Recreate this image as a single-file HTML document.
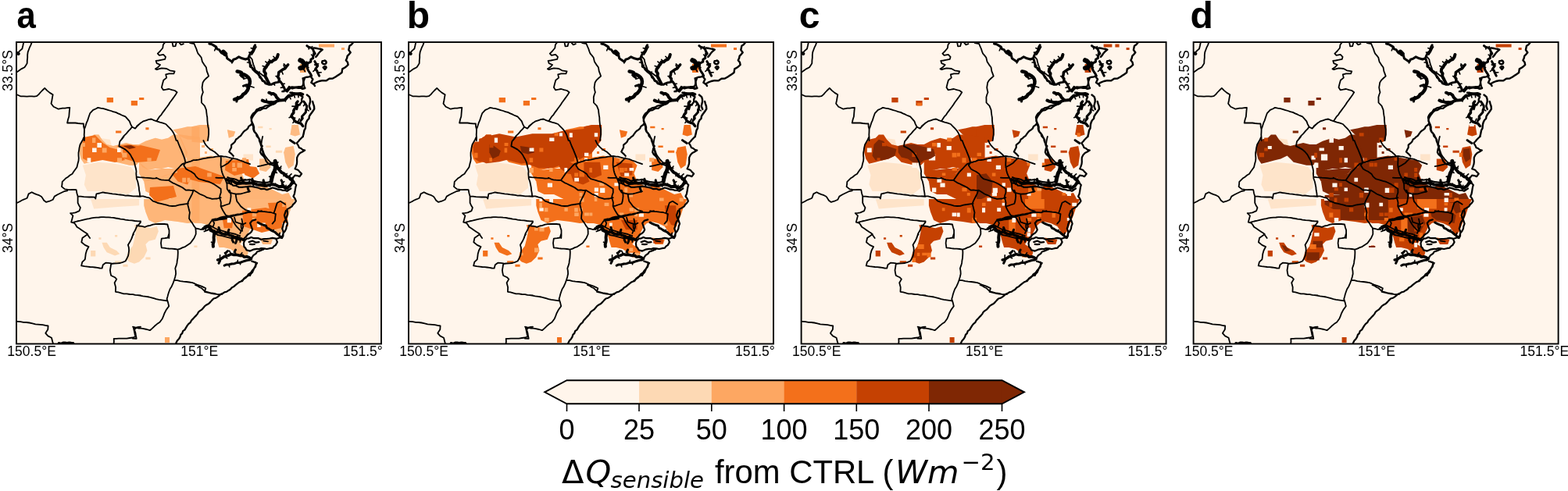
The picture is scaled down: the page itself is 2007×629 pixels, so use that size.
<!DOCTYPE html>
<html><head><meta charset="utf-8"><title>Figure</title><style>
html,body{margin:0;padding:0;background:#fff;}
svg{display:block;}
.lt{font-family:"Liberation Sans",Arial,sans-serif;font-weight:bold;font-size:48px;}
.tk{font-family:"Liberation Sans",Arial,sans-serif;font-size:17.5px;}
.cbt{font-family:"Liberation Sans",Arial,sans-serif;font-size:36px;}
.cbl{font-family:"Liberation Sans",Arial,sans-serif;font-size:41.8px;}
.dj{font-family:"DejaVu Sans",sans-serif;}
.dji{font-family:"DejaVu Sans",sans-serif;font-style:oblique;}
.sub{font-size:29.2px;}
.dj,.dji{font-size:41.6px;}
.dj.sub,.dji.sub{font-size:29.2px;}
</style></head>
<body><svg width="2007" height="629" viewBox="0 0 2007 629"><defs><clipPath id="pc"><rect x="21" y="54" width="467" height="386.5"/></clipPath><g id="ln" fill="none" stroke="#000" stroke-linejoin="round" stroke-linecap="round"><path d="M276.2 60.7 L274.7 64.8 M297.2 78.6 L296.9 80.9 M319.3 80 L316.5 80 M320.8 85.1 L322.4 83.5 M323.6 89.3 L325.3 87.2 M330.3 95.1 L332.2 92 M332.2 99.4 L333.9 98.1 M350.1 107.2 L351.6 109.1 M361.5 107.5 L364.3 107.2 M363.2 111.8 L359.4 112.4 M364.7 115.8 L363.1 117.6 M367.5 117.2 L363.8 114.7 M324.6 62.9 L321.3 61.6 M321.8 67.2 L318.8 67.1 M308.6 92.9 L306.9 96.4 M317.2 99.4 L311.8 101.3 M318.6 110.1 L325 112.1 M317.2 112.9 L314.9 110.9 M352.9 75.8 L349.9 72.3 M347.2 78.6 L344.6 76.3 M342.9 81.5 L339.9 78.9 M340.1 85.8 L336.2 84.4 M366.5 85.1 L363.4 81.8 M364.4 87.2 L363.1 83.3 M360.1 90.1 L362.1 94.9 M355.8 98.6 L353 97.5 M341.5 130.1 L341 127.1 M364.4 127.3 L365.4 129.9 M370.1 123 L372.1 126.9 M375.8 120.1 L377.4 124.9 M381.6 120.1 L382 124.6 M350.1 120.1 L347.2 122 M293.6 231.1 L293.6 235 M297.2 232.2 L295.3 236.3 M304.3 235.1 L302.2 237.6 M307.9 235.1 L306.7 231.4 M311.5 235.1 L311.5 232.6 M318.6 234.3 L319.6 230.2 M325.8 235.8 L324.4 231.8 M340.1 237.9 L339.6 234.2 M347.2 236.5 L345.5 239 M350.8 237.2 L352.6 235 M365.8 240.8 L366.1 237.4 M368.7 239.3 L368.5 242.8 M373.7 235.8 L372.8 232.9 M352.7 210 L356 207.8 M353.2 213.6 L359.7 215.5 M351.5 219.3 L354.4 221.5 M349.4 225 L344.6 226.3 M348.3 228.6 L345.7 226.8 M357.3 216.5 L359.9 213 M363 222.5 L363.1 225.6 M365.8 224.3 L367.3 222.4 M368.7 226.8 L373 222.9 M373.7 231.5 L375.2 228.4 M310 230.8 L314.3 230.1 M337.9 234.3 L335.3 235.2 M361.5 234.3 L363.8 232.7 M262.9 291.5 L263.3 295 M268.6 292.2 L265.3 294.9 M271.4 294.3 L269.2 296.5 M277.2 297.2 L280.1 292.8 M288.6 300 L288.2 296.8 M304.3 304.3 L304.1 301.6 M308.6 305.8 L307.3 310.1 M273.6 311.5 L270.5 310.2 M348.7 295.8 L350.4 294.5 M357.3 302.2 L358.2 298.3 M281.5 331.5 L281.6 326.7 M287.2 328.7 L290.8 330.8 M290 327.2 L287.5 323.7 M295.8 325.8 L293.7 321.3 M301.5 326.5 L301.5 323.7 M307.2 327.2 L309.9 323.8 M292.9 338.7 L293.7 341.9 M303.6 336.5 L304.4 333.4 M307.2 335.8 L307.6 338.8 M379.8 133.2 L384.1 134.7 M378.5 136.4 L374 136.1 M373.4 149.1 L370.1 150.7 M375.3 151.9 L377.8 151 M377.2 154.8 L375 157.3 M381 156.7 L383.3 152.2 M390.6 132.9 L388.6 135.6 M391.5 139.5 L395.2 141.9 M386.8 149.1 L388.1 151.4 M385.8 151.9 L387.6 152.7 M395.8 60 L395.2 62.9 M398.6 61.4 L399.7 59.7 M402.9 68.6 L400.8 68.2 M401.5 71.5 L398.6 70.2 M394.3 81.5 L392.6 79 M392.9 87.2 L394.9 86.4 M404.3 81.5 L407.6 81.9 M405.8 84.3 L402.7 82.9 M404.3 88.6 L400.9 91.4 M407.2 92.9 L411.2 92.8 M387.2 85.8 L390.3 91.5" stroke-width="1.6"/><path d="M30.3 54.1 L29.4 58.3 L28.4 62.5 L25.6 64.9 L23.1 67.6 M40.7 54.1 L39.6 57.3 L38.1 60.3 L36.9 63.5 L35.7 66.6 L35.2 70.2 L35.2 73.8 L34.8 77.4 L34.7 81.1 L33.1 83.7 L31.4 86.2 L27.7 88.1 L24.2 90.5 L21.7 92.4 M21.7 121.3 L26.2 123.3 L30.3 123.4 L34.5 123.6 L37.6 123.4 L40.7 123.3 L43.8 123.6 L46.8 123.2 L49.4 121.1 L51.6 118.5 L54 116 L57.2 112.9 L60.4 116.1 L63.8 118.9 L67.7 121.2 L67 124.9 L66.4 128.5 L65.5 132.7 L68.6 136.8 L71.8 138.2 L74.8 139.7 L79.9 138.7 L83.1 138.6 L86.1 138.2 L89.3 137.8 L88.9 141.6 L88.6 145.4 L88.3 149.2 L87 153.3 L86.1 157.5 L89.6 157.4 L93 157.5 L96.5 157.5 L99.9 158 L103.4 158.3 L106.9 158.5 L107.1 162.2 L108 165.7 L107.9 169.3 L107.7 172.9 L108 176.5 L107.9 180 M107.9 165.8 L109.4 161.6 L110.7 157.4 L112.1 154.4 L113.1 151.3 L114.1 148.2 L115.2 145.2 L119.2 140.9 L122.4 139.5 L125.4 137.9 L128.9 138.6 L132.3 139.2 L135.7 140.1 L138.8 141.2 L142 142 L145 143.1 L148.2 143.9 L151.2 145.4 L154.3 146.7 L157.4 148.2 L160.5 149.4 L163.2 152.3 L165.8 155.4 L167.2 159.1 L169 162.5 L173 164.7 L175.2 162.2 L177.5 159.8 L180 157.5 M168.8 162.7 L166.9 165.4 L164.6 167.7 L161.7 171.1 L158.6 174.1 L156.5 177.1 L154.4 180 M211.2 54.1 L208.9 57.2 L208.3 61.5 L205 65.5 L201.8 68.6 L203.9 70.9 L209.1 69.8 L212 72.8 L211.2 75.9 L206 76.9 L202.9 77.5 L199.6 77.8 L200.7 81.2 L205.1 83 L202 86.3 L198.9 88.3 L200.8 89.1 L203.9 88.2 L207 87.3 L210.2 87.6 L213.3 88 L217.4 90.3 L220.5 90.8 L223.6 91.4 L222.4 94.3 L219.4 94.3 L216.3 94.4 L212.2 95.4 L213.2 99.6 L209.3 102.8 L207.9 107.8 L206.9 112 L209 115.3 L212.7 114.7 L216.3 114 L220 115.1 L223.7 116 L226.6 118.2 L225 120.9 L223.2 123.5 L221.3 126.1 L219.4 128.7 L217.5 131.2 L215.8 133.9 L214 136.5 L212.1 139 L210.2 141.6 L208.3 144.1 L206.6 146.8 L204.4 149.1 L202.6 151.8 L200.8 154.4 M175 161.6 L177.7 159.4 L180.4 157.4 L183.2 155.4 L186.7 154.3 L190.1 153.2 L193.6 152.5 L197.1 154.1 L200.8 155.4 L204.6 156.7 L208.5 157.7 L212.3 159 L215 161.8 L217.8 164.6 L220.3 167.5 L222 170.2 L223.4 173.1 L224.4 176.2 L225.6 180 M220.5 54.1 L221.5 59.3 L224.5 59.2 L225.6 55.2 M229.8 55.2 L231.8 57.3 L234.9 56.2 M243.2 55.2 L248.5 56 L249.9 59.3 L251.3 62.5 L252.3 65.6 L253.5 68.7 L255.7 71.1 L257.7 73.7 L258.9 78.9 L261.2 82.6 L263.9 86.2 L264.8 91.4 L266 94.4 L267.1 97.6 L264.3 100 L261.6 102.6 L259.6 105.7 L259.1 108.9 L258.6 112 L259.1 115.1 L259.9 118.2 L258.7 121.3 L257.8 124.4 L257.9 128 L257.9 131.5 L261.9 135.7 L264 140.9 L264.3 144.1 L264.7 147.2 L265.3 150.6 L265.4 154.1 L265.7 157.5 L266.2 161.7 L267.1 165.8 L267.1 168.9 L267.1 172 L266.6 176 L266 180 M107.9 175 L105.9 179.2 L104.2 182.2 L102.5 185.3 L101.5 189.4 L101.1 192.6 L100.5 195.7 L100.5 199.1 L100.8 202.6 L100.5 206 L99.4 210.1 L98.4 214.2 L96.4 217 L94.4 219.8 L92.5 222.7 L89.5 224.5 L86.9 226.7 L84 228.6 L79.7 232.8 L79.5 236 L79 239.1 L83 242.4 L86.7 242.8 L90.3 243.1 L93.9 243 L97.6 243.1 L98.4 247.4 L99.6 251.5 M22.1 259.8 L25.2 258.3 L28.2 256.5 L31.4 255.2 L34.7 253.7 L36.6 248.4 L40.7 246.2 L43.8 247.9 L46.9 249.2 L50.1 250.2 L52.9 251.7 L54.6 254.1 L56.2 256.7 L59.2 258.9 L63.4 257.7 L67.7 255.8 L69.7 251.6 L73.7 249.3 L77.8 247.2 L82 245.2 L86.1 244.3 M99.6 251.5 L103.4 251.7 L107.2 252.2 L111 252.4 L114.4 252.5 L117.8 252.3 L121.2 252.7 L122.3 254.5 L122.8 251.5 L123.4 248.4 L127.5 247.5 L131.6 246.3 L134.7 247 L137.8 247.4 L140.9 247.9 L144 248.4 L147.4 248.6 L150.6 249.2 L154 249.5 L157.3 249.8 L160.6 250.6 L163.8 250.5 L167 250.9 L170.3 251.3 L173.5 251.4 L176.8 251.6 L180 251.9 M99.6 251.5 L99.6 255.6 L99.6 259.8 L101 262.9 L102.9 265.9 L101.6 270.1 L96.5 272.3 L93.4 272.8 L90.1 273.2 L93.4 276.3 L92.3 280.4 L91.2 284.6 L95.3 285.8 L97 288.2 L98.5 290.8 L101.7 292.8 L104.8 294.9 L107.8 297 L111 299 L113 302 L115.1 305 M94.4 284.6 L98.6 283.5 L102.7 282.7 L106.8 281.6 L111 280.6 L114.1 280.1 L117.1 279.3 L120.3 278.9 L123.4 278.6 L126.5 278.5 L129.6 278.2 L132.7 278.2 L135.8 278.3 L138.9 278.4 L142 278.7 L145.1 278.9 L148.2 279.5 L151.2 280 L154.3 280.6 L157.5 280.8 L160.6 281.6 L164.7 282.1 L168.9 282.3 L172.5 283 L176.3 283.4 L180 283.5 M180 284.6 L177.6 287.7 L174.8 290.6 L173.7 293.5 L172.3 296.3 L170.7 298.9 L169.7 302 L168.8 305 M158.5 175 L156 178.2 L153.4 181.2 L152.8 184.3 L152.4 187.4 L155.1 188.6 L157.9 190.1 L160.5 191.6 L163.8 194.5 L166.7 197.8 L168.5 201.2 L170.4 204.5 L172 208 L172.9 212.2 L174 216.3 L174.5 219.4 L174.3 222.6 L174.6 225.7 L174.8 228.8 L176.3 232.8 L177.2 237 L177.8 240.1 L178 243.2 L178.8 247.3 L179.2 251.5 M175 251.5 L179.1 251.3 L183.3 251.4 L187.4 252.7 L191.5 253.7 L195.7 257.6 L198.8 258.6 L201.8 260 L206 260.8 L210.1 261.9 L213.3 262.7 L216.4 263.7 L220.5 264 L224.6 263.9 L228.7 262.6 L232.9 262 L237 261.4 L241.1 260.8 M175 288.7 L178.4 289.5 L181.9 289.9 L185.3 290.9 L188.7 289.5 L192.3 288.9 L195.7 287.6 L199.1 287.2 L202.6 287 L206 286.8 L210.2 287 L214.4 287.5 L215.3 291.3 L216.5 294.9 L216.5 298.3 L216.5 301.6 L216.3 305 M274.2 282.5 L276.9 280.9 L279.7 279.6 L282.5 278.3 L285.6 277.7 L288.7 277.5 L291.8 276.7 L294.9 276.3 L298 275.6 L301.1 275.2 L304.2 274.5 L307.3 274.1 L310.7 273.3 L314.2 273 L317.6 272.2 L321.1 272 L324.5 272.1 L328 272.4 L331.4 270.9 L335 270.1 M294.9 276.3 L296.1 279.1 L297.7 281.8 L299 284.6 L301 287.8 L303.2 290.7 L307.3 294.9 M309.4 280.4 L310.1 283.9 L310.7 287.3 L311.2 290.7 L310.1 293.6 L308.5 296.2 L307.3 299 M336.2 175 L335.4 178.4 L334.8 181.9 L334.4 185.3 L335 188.5 L336 191.6 L337.2 194.7 L338.2 197.8 L340.2 200.9 L342.5 203.8 L346.5 208.1 L350.7 210.1 L354.8 212.2 M330 213.2 L334.2 212.4 L338.3 211.3 L342.4 210.3 L346.5 209.1 L350.7 208.1 M330 270.1 L334.1 270.8 L338.3 271.2 L342.4 271.7 L346.6 272 L349.7 273 L352.9 274.1 L352.3 278.4 L351.9 282.6 L348.6 286.6 M350.7 272.2 L351.9 269.1 L352.8 266 L353.8 262.9 L354.9 259.8 L358.9 257.8 L362 259.8 L365.1 261.8 M250 365.1 L252.9 366.2 L255.4 368 L258.2 369.3 L262.4 373.4 L266.5 374.4 L270.7 375.5 L274.2 375.9 L277.5 376.9 L281 377.5 M112.2 300 L108.8 302.4 L105.5 304.7 L104.3 310.3 L108.7 313.9 L113.5 316.1 L111 320.7 L109.7 325.3 L109.3 328.8 L108.8 332.3 L105.3 335.7 L104.1 340.4 L108.2 341.1 L112.2 341.6 L115.3 342 L118.4 342.1 L121.5 342.5 L124.5 342.9 L127.6 343.5 L130.6 343.7 L131.8 339.2 L135.2 336.7 L138.7 336.9 L142.2 337.3 M142.2 338 L146 337.5 L149.9 337.4 L153.7 337 L157.2 335.8 L160.6 334.5 L162.4 331.1 L164.1 327.7 L164.7 324.2 L165.1 320.7 L164.9 317.3 L163.9 313.8 L166.6 309.3 L168.3 305.9 L169.6 302.2 L171 300 M142.2 338 L141.6 342.1 L140.9 346.1 L141.4 349.6 L142.2 353 L146.9 355.2 L149.3 357.6 L146.6 362.2 L148.1 368 L147.9 373.8 L151.5 374.4 L154.9 375.3 L158.3 376.3 L162.2 376.3 L166 377 L169.9 377.2 L173.2 377.8 L176.6 378.1 L180 378.4 M22.3 411.8 L26.2 412.1 L30 412.8 L33.8 413 L37.7 413.5 L41.6 414.3 L45.4 415.3 L48.4 415.6 L51.5 415.9 L54.6 416.2 L58.1 416.9 L61.6 417.5 L61.3 422.1 L58.3 426.8 L61.4 430.4 L66 432.7 L67.4 438.3 L68.4 440.6 M145.6 440.6 L145.9 437.2 L145.7 433.8 L148.8 433.9 L152 433.6 L155.2 433.7 L158.3 433.7 L162.2 433.6 L166 433 L169.8 432.5 L173.3 431.4 L172.6 428 L171.9 424.5 L170.8 419.8 L174 419.7 L177 419 L180 418.7 M216.1 300 L214.8 304.5 L210.9 305.2 L206.8 305.7 L206 311.5 L206.8 317.4 L210 317.7 L213 318.2 L216.1 318.5 L220 318.7 L223.8 319 L227.6 319.6 M227.6 319.6 L230.8 318.6 L233.7 317.1 L236.9 316.1 L240.3 313.8 L243.7 311.5 L246.2 308.1 L248.6 304.7 L250.7 300 M227.6 319.6 L227.8 323.6 L227.6 327.7 L227.4 330.8 L226.8 333.8 L226.5 336.9 L225.5 340.4 L224.3 343.8 L224.9 347.2 L225.1 350.7 L224.2 354.8 L223 358.8 M223 358.8 L226.9 359.2 L230.7 360.1 L234.5 360.6 L238.4 361 L242.3 361.5 L246.1 362.1 L249 363.2 L251.9 364.5 L254.8 365.5 L257.7 366.7 L260.5 367.9 L263.3 369.2 L262 373.8 L265.3 374.7 L268.4 375.3 L271.4 376 L274.5 376.5 L277.6 376.8 L280.7 377.2 L284.1 377.2 M223 358.8 L221.5 362.9 L219.7 366.9 L217.6 370.2 L216.3 373.8 L215.3 376.8 L214.5 379.9 L213.6 383 L215.1 387.6 L216.2 392.2 L212.8 396.9 L210.4 401.5 L209.2 404.9 L207.8 408.2 L204.5 412.8 L201 415.1 L197.8 417.8 L194.9 420.6 L191.9 423.2 L187.9 422 L183.8 421.1 L180.8 420.6 L177.7 420.5 L174.6 419.9 L170 418.7 M170 377.2 L173 377.8 L176.1 378.2 L179.2 378.6 L183 379.4 L186.9 379.8 L190.8 380.5 L193.9 381.3 L196.9 382.2 L200 383.1 L203.4 383.8 L206.9 384.3 L210.3 384.8 L213.8 385.3 M170 433.7 L174.7 433.8 L174 430.3 L173.5 426.8 L172.1 422.2 L174.6 419.9 M318.6 71.5 L320.6 73.7 L322.7 76 L323.4 79.6 L324.5 83.1 L325.8 86.5 L326.9 90.1 L331.5 92.9 L334.4 95 L337.2 97.2 M327.9 60 L326.3 62.8 L325 65.7 L322.2 70 M387.3 100.1 L388.5 105.8 L389.3 109.4 L390.1 112.9 M261.4 290 L264.2 288.8 L267.1 288 L270.1 289.5 L272.9 291.3 L275.8 292.8 L278.7 294.1 L284.3 295.7 L290 297.3 L295.7 298.7 L301.5 300 L304.3 301.2 L307.2 302.2 M261.4 296.5 L264.3 295.4 L267.2 294.1 L270 296.2 L272.9 297.9 L275.7 299.4 L278.5 301 L284.3 302.2 L290 303.7 L295.7 305.2 L301.5 305.7 L304.4 306.7 L307.2 307.9 M337.3 308.6 L343 309.3 M271.4 281.4 L275.7 280.5 L280 280.1 L284.3 279.4 L288.6 278.5 L292.9 278 L297.2 277.1 L302.9 275.7 L306.5 275 L310.1 274.4 L313.6 272.7 L317.2 271.4 M271.4 281.4 L274.3 285.7 L272.9 290 M300.1 278.6 L301.5 284.3 L305.8 285.8 L311.5 287.3 L314.4 285.7 M308.6 287.2 L308.7 291.4 L310.1 295.8 M175 226.7 L178.4 227.2 L181.9 227.3 L185.3 227.7 L188.8 227.8 L192.2 228.1 L195.7 228.6 L200.8 228.3 M227 180 L228.5 184 L230.1 188 L231.9 191.9 L233.5 195.9 L235.1 199.8 L236.5 203.9 L237.4 208.6 M237.4 208.6 L240.8 207.6 L244.3 206.6 L247.6 205.2 L250.9 205 L254.1 204.6 L257.2 203.9 L260.4 203.1 L263.6 202.7 L266.7 202 L269.9 201.6 L273.2 201.4 L276.3 200.7 L279.5 200.3 L282.7 200 L285.8 200.5 L289 200.7 L292.2 201.5 L295.4 202.3 L299.3 203.1 L303.3 203.9 L307.3 205.5 L311.3 206.9 L314.2 208.2 L317.1 209.1 L320 210.2 M260.4 180 L261.9 183.2 L263.8 186.2 L266.1 188.6 L268.5 190.9 L271.5 192.8 L274.6 194.5 L277.1 196.7 L279.5 199 L280.3 200.3 M237.4 208.6 L233.3 210.1 L230.9 212.5 L228.6 215 L226.3 217.4 L223.9 219.8 L221.5 222.9 L219.2 226.2 L215.9 230.9 L212.7 230.8 L209.6 230.7 L206.3 230.3 L203.2 229.3 L200 227.7 M237.4 208.6 L235.2 211.8 L238.3 216.4 L241.3 218.3 L244.5 219.8 L249.1 223.1 L250.9 226.1 L254.2 229.1 L257.2 230 L260.4 230.9 L263.5 231.9 L266.7 232.7 L270 234 L273.2 235.6 L278 238.7 L282.7 242 M215.9 230.9 L220.6 234.1 L223.9 235.5 L227.1 237.1 L230.3 238.6 L233.5 240.2 L238.1 243.7 L241.3 243.4 L244.5 243.8 L247.7 243.6 M247.7 243.6 L252.6 246.6 L255.6 248.5 L258.9 249.8 L262.1 251.3 L265.1 253.2 L268.4 253.8 L271.5 254.8 L274.7 254.6 L277.9 254.5 L282.7 253.1 M247.7 243.6 L246 248.3 L244.4 251.5 L242.8 254.6 L241.2 257.9 L240 261.1 L241.3 265.9 L242 269.1 L242.9 272.2 L242.3 276.1 L242.1 280 M282.7 242 L282.8 246.8 L281.7 249.9 L281 253.1 L282.1 256.3 L282.9 259.5 L282.6 264.3 L285.9 263.6 L289 262.5 L293.7 261 L294.7 257.9 L295.2 254.7 L295.6 251.5 L295.4 248.4 L293.8 243.6 M282.7 200.7 L282.9 204.4 L282.7 208.1 L282.6 211.8 L283.2 215 L283.6 218.2 L284.4 221.3 L285.7 224.6 L287.4 227.7 M287.4 227.7 L289.1 231.6 L290.5 235.7 L290.6 238.8 L290.7 242 L293.8 246.7 L297.7 247.7 L301.7 248.6 L304.9 248.5 L308.1 248.4 L311.3 247.5 L314.4 246.6 L320 245.2 M276.3 227.7 L279.5 227.9 L282.7 227.8 L287.4 227.7 M298.6 202.3 L295.3 205.3 L292.3 208.7 L287.4 211.8 L282.7 214.2 M301.7 248.4 L302 251.6 L302.6 254.7 L303.3 257.9 L305.8 261 L308.1 264.2 L311.2 266.8 L314.5 269 L320 270.6 M282.7 264.3 L284.2 267.5 L285.8 270.6 L288.9 275.5 L292.1 277.1 L295.4 278.6 M242.1 280 L244 283.1 L246.2 285.9 L248 289.1 L250.2 292 L250.7 296 L250.7 300 M250.5 292.5 L253.8 293.1 L257 294 L260.5 293.3 L263.9 292.4 L266.2 289.2 L268.6 286.1 L270.9 282.8 L274.2 282.5 L277.4 282.2 L280.5 281.3 L283.7 281 L286.9 280.6 L290 280" stroke-width="1.8"/><path d="M387.9 175 L385.6 176.9 L383.6 179 L381.8 181.3 L379.8 183.3 L381.6 186.1 L383 189.2 L385.3 190 L387.4 191.8 L390.2 192.6 L387 194.5 L384.1 196 L381.8 198.6 L380.2 201.7 L380.1 204.6 L380.2 207.4 L379.9 210.2 L378.8 213.3 L377.6 216.3 L381.9 218.1 L383.8 220.4 L386.1 222.5 L383.5 226.2 L380.8 225.1 L377.5 224.6 L375.7 226.9 L372.9 228.7 L375.7 232.8 L377.2 234.8 L379.2 236.9 L378.4 239.8 L377.9 242.5 L377.5 245.3 L376.9 248.5 L375.5 251.5 L377.6 254.3 L378.9 257.7 L377.2 260.1 L375.2 261.9 L373.8 264.3 L370.6 266.4 L367.4 268.1 L368 271.1 L368.1 274.2 L367.2 277.3 L365.9 280.4 L367 283.6 L368 286.6 L366.8 289.6 L366.3 292.9 L364.8 296 L362.5 298.8 L362.4 302.2 L361 305 M329.1 336.9 L327.6 339 L327.1 341.6 L325.2 343.6 L324.3 346 L322.3 348.6 L320.2 351 L317.7 353.3 L315.1 354.6 L312.8 356.3 L310.9 358.6 L308.6 360.4 L306 361.6 L303.7 363.3 L301.5 365.2 L299.3 367.1 L296.7 368.5 L294.8 370.8 L292.3 372.2 L289.9 373.8 L287.3 374.4 L285.2 375.9 L282.7 376.8 L280.7 378.7 L278.5 380.4 L276.2 381.8 L273.4 382.5 L271.3 384.6 L269.3 386.9 L267.2 389 L264.5 390.4 L262.1 392.1 L260.4 394.2 L258.6 396.3 L256.3 397.8 L254.2 399.5 L252.8 402.1 L251.1 404.1 L249 406.2 L247.1 408.4 L245 410.5 L243.6 413.2 L241.2 415.1 L239.5 417.4 L238 419.9 L236.6 422.4 L234.1 424.2 L233.3 426.9 L231.3 428.9 L230.5 431.6 L229.1 433.9 L226.8 436.4 L225.3 439.5 M320 353.1 L321.2 350.6 L323.2 348.7 L324.1 346.1 L325.2 343.6 L326.6 341.4 L328 336.9 L325.3 335.6 L322.3 334.6 M324 145.4 L326.7 143.4 L328.5 140.3 L331.1 139.3 L333.3 138 L336.1 137.6 L339 135.9 L342.1 135 L345.3 134.2 L347.8 133.8 L350.3 133.6 L352.6 132.3 M324 145.4 L322.4 147.6 L321.3 150.2 L321.8 153.5 L322.7 156.7 L324.2 159.7 L325.1 162.8 L325 166.2 L326.1 169.4 L328 171.4 L328.6 174.2 L330.6 176.4 L332.4 178.8 L333.1 182.4 L333.9 185.9 L334.9 188.2 L335.3 190.7 L336.1 193.1 L336.6 196.8 L338.3 200.1 M322.8 157.4 L321.1 160 L318.4 161.8 L317.1 164.7 L315.1 166.4 L312.9 167.8 L311.2 169.6 L309.7 171.7 L308.2 173.8 L306.1 175.3 L304.4 177.1 L302.1 178.5 L300.8 181.4 L298.6 183.7 L296.1 185.7 L296.1 188.9 L294.7 191.6 L293.3 194.5 L296.8 197.6 L298.7 199.8 M291.4 227.2 L294.9 228.7 L298.7 229 L302.3 230 L305.7 232 L309.3 230.8 L312.9 230.6 L316.5 230.5 L320.1 229.9 L323.5 231.4 L327.1 232.4 L330.7 233.2 L334.3 233.7 L337.9 233.7 L341.5 233.9 L344.4 233.2 L347.2 232.5 M291.4 234.3 L294 234.7 L296.4 235.7 L298.4 237.7 L302.3 238 L305.7 239.8 L309.3 239.8 L312.9 239.5 L316.5 239.2 L320.1 238.7 L323.7 239.2 L327.3 239.9 L330.9 240.8 L334.3 242.1 L338 241.8 L341.6 243.1 L345.1 242 L348.7 240.5 L352.3 241.4 L355.8 242.7 L358.9 242.9 L361.6 243.8 L364.4 243.8 L367.4 244.8 L369.9 243.2 L372.3 241.5 M312.9 308.6 L315.7 305.7 L318.7 305.3 L321.5 303.9 L324.3 305.1 L327.2 305 L330.9 305.2 L334.4 306.9 L338 306.1 L341.6 306 L345.2 305.5 L348.7 304.8 L353.1 305.6 L355 310.1 L352.7 314.1 L350.6 315.4 L348.9 317.7 L345.2 318.2 L341.6 319 L338 318.4 L334.4 318.1 L331.5 319 L328.7 318.8 L324.2 319.7 L320.1 321.6 L315.6 320.4 L314.3 317.9 L312.4 316 L311.9 311.5 L312.9 308.6 M318.7 310.1 L323 308.5 L327.3 310.6 L331.5 310.1 M320.1 312.9 L322.9 313.2 L325.8 312.9 M311.5 307.2 L312.9 305 L314.8 303.3 L317 300.5 L320.1 298.6 L321.9 296.8 L323.2 294.3 L321.6 290 L320.2 285.8 L322.8 282.6 L327.2 281.4 M365.9 270 L365 272.8 L364 275.7 L364.8 278.7 L366 281.5 L363.9 284 L362.7 287.1 L362.1 290 L361.2 292.9 L362.3 295.7 L362.7 298.6 L361.9 301.6 L360 304.1 L357.2 304.8 L354.4 305.8 M321.5 331.5 L322.8 329.3 L324.3 327.2 L327.6 324.8 L329.1 322.5 L331.6 321.6 L334.4 320.6 L337.3 319.4 M327.2 335.8 L327.8 338.7 L327.1 341.5 L324.9 344.3 L322.6 346.9 L320.9 349.5 L318.2 351.1 L316.5 353.7 L314.4 355.9 L311.9 357.6 L310.1 360 M352.4 130 L350.2 131.6 L348.6 133.9 L345.5 135.3 L342.7 137.2 L340.5 138.8 L337.8 138.8 L335.3 139.7 L332.9 141.2 L329.9 141.6 L327.8 143.6 L325.7 146.2 L323.7 149 L322.3 151.8 L321.7 154.8 L322.7 157.3 L323.2 159.9 L324.2 162.3 L324.2 165.5 L325.2 168.4 L327.4 170.4 L329.1 172.6 L330.3 175.2 L331.6 177.6 L332 180.3 L332.9 182.6 L333.9 185 L335.8 187.2 L334.3 189.7 L333.7 192.3 L333.2 194.9 L334.8 198 L337.6 200.3 L339.4 203.2 L340.7 206.5 L342.5 208.6 L344.7 210.3 L347.7 210.9 L350.5 212" stroke-width="2.2"/><path d="M400.1 130 L401 133.1 L402 136.2 L402.3 139.6 L400.7 142 L399.1 144.3 L397.4 146.5 L395.9 148.9 L395.5 151.9 L393.4 154 L392.1 156.6 L391.4 159.1 L391.1 161.8 L390.9 164.4 L389.5 166.8 L389 169.3 L388.5 171.9 L387.7 174.8 M451.6 55 L449.7 57.2 L447.4 58.7 L446.8 61.5 L446.3 64.1 L448.7 67.2 L446.8 69.6 L444.7 71.6 L444.1 74.4 L442.8 77.2 L444.9 79.8 L445.6 82.9 L443.9 84.6 L441.9 86.2 L438.2 88.4 L437.5 93.1 L434.1 95.4 L432 96.8 L429.9 98.2 L425.9 100.5 L421.5 100.8 L417.4 103.4 L412.8 103.1 L408.5 104 L404.3 105.7 L401.5 107.2 L402.9 110.1 M401.5 107.9 L398.4 105.8 L400.4 101.5 L398.7 99.4 L397.5 97.2 M390 100.1 L388.5 104.3 L388.3 107.3 L387.4 110.3 L384.4 111.3 L381.4 111.3 L377.9 112.2 L374.3 113.4 L370 111.1 L368.1 113.9 L365.8 115.9 L361.4 117.2 M388.6 100.1 L391.4 99 L395.7 98.4 L398.6 97.2 M401.5 61.4 L404.4 61.8 L407.3 62.4 L410.1 62.7 L412.8 63.6 L410.1 65.7 L407.4 68.8 L406.1 70.9 L404.3 72.9 M417.7 80 L417.1 81.5 L415.8 82.3 L414.4 82.1 L413.1 81.5 L412.1 80 L412.6 78.2 L414.4 77.9 L415.9 77.5 L417.2 78.5Z M417.7 86.5 L416.9 87.6 L415.8 88.9 L414.7 87.5 L413.7 86.5 L414.8 85.5 L415.8 85.1 L417.1 85.2Z M371.4 118.7 L374.4 118.8 L377 120.6 L380.1 120.5 L383 121.2 L385.3 122.6 L387.5 124.3 L386.1 127.2 L386.3 130.4 L384 133.3 L381.2 135.7 L380 140 M392.9 121.5 L396.1 124.2 L397 127.1 L397.1 130.1 L396.4 133 L395.7 135.8 L397.2 140" stroke-width="2.4"/><path d="M75.3 439.5 L78 440.3 L80.6 439 L83.2 439.1 L85.9 439.5 L88.5 438.9 L91.1 439.3 L93.8 439.5 M267.9 56 L271.1 56.8 L273.9 58.4 L276.7 60.1 L277.8 62.9 L280.5 63.6 L281.9 65.8 L283.5 67.8 L286 68.9 L288.2 70.2 L290.1 71.9 M290 71.5 L290.7 74.7 L293.3 76.6 L297.2 79.2 L298.8 76.3 L301.6 75.4 L305.7 72.8 L309.9 74.8 L314.3 76 L317.9 74.6 M317.9 74.6 L318.9 77.2 L319.6 80 L320.3 82.5 L320.3 85.3 L322.8 86.8 L324 88.9 L327.2 92.1 L330.7 94.8 L332.9 98.9 L334.7 100.7 L336 103.3 L338.4 104.4 L340 106.9 L344.5 108.2 L347.4 108.2 L350 106.8 L352.6 105.9 L355.3 105.4 L359 104.6 L361.2 107.7 L363.3 111.8 L365.1 115.5 L367.5 117.1 L370.6 113.4 L373.4 111.8 L376.1 112 L378.9 112.1 L381.8 112.5 L384.8 112.3 L387.4 113.6 L390.1 112.9 M326.5 57.9 L325.1 60.2 L324.4 62.7 L323.7 65.4 L321.7 67.1 L320.1 69.2 L319.1 71.5 L317.9 74.6 M308.6 97.2 L311.5 99.4 M311.5 110.1 L315.8 108.7 M304.3 124.4 L303.4 127.2 L302.9 130.1 M308.6 227.9 L309.7 230.9 L311.5 233.6 M322.9 229.3 L323.7 232.9 L324.3 236.5 M337.2 230.8 L337.8 234.4 L338.7 237.9 M317.2 240.8 L318.6 245.1 M360.1 230.8 L361.2 233.1 L361.4 235.8 L363 237.9 M281.5 295.8 L280 291.5 M291.5 298.6 L292.9 294.3 M297.2 304.3 L297.2 307.4 L298.6 310.1 M302.9 305.8 L302.7 308.7 L301.5 311.5 M330.1 285 L333.1 286.6 L336.1 287.9 L340.4 289.3 L341.8 292.1 L344.3 293.1 L346.4 294.6 L348.6 295.9 L352 297.3 L354.6 299.8 L357.4 302 L360.1 304.3 M287.2 340.1 L289.9 338.9 L293 339 L296.5 338 L300.1 337.7 L303.6 336.4 L307.3 336.5 L310.8 335.2 L314.3 334 L317.1 333.2 L320.1 332.9 M288.6 324.4 L291.5 321.5 M300.1 322.9 L301.5 320.1 M281.5 334.4 L280 337.2 M388.7 130 L390.8 132.7 L392.6 135.7 L392.6 138.4 L391.5 140.9 L391.4 143.7 L389 146.4 L386.6 149 L386.5 152.2 L384.9 154.8 M371.5 179.6 L374.3 181.6 L377.2 183.4 M392.9 58.6 L395.5 60.6 L398.8 61.2 L400.6 63.3 L401.5 65.7 L403.2 68.6 L400.8 71.1 L400.7 74.7 L397.9 76 L397.8 79.1 L393.7 81.1 L393.3 84.3 L393.4 87.1 L394.4 90 L396.1 92.7 L397.6 94.8 L398.6 97.2 M402.9 78.6 L404.4 81.5 L406.7 84.3 L403.6 88.6 L405.8 90.7 L406.6 93.2 L408.6 97.2" stroke-width="3"/><path d="M368.7 82.9 L366.7 85.2 L364.9 87.8 L362.4 88.8 L360.3 90.2 L356.8 92.6 L356.5 95.8 L355.5 98.6 L357.3 100.9 L357.2 103.6 M381 130 L379.4 132.1 L379.4 134.9 L378.9 137.4 L377.1 139.5 L375.8 141.7 L375.8 144.5 L374 146.5 L372.7 149.2 L375.7 151.7 L377.1 154.9 L379.6 156.4 L382.3 157.3 L385.2 158.2 L387.7 161.5" stroke-width="3.5"/><path d="M260 292.9 L262.8 291.3 L265.7 290.1 L268.9 291.7 L271 295.1 L274.2 296 L276.9 297.9 L280.2 297.2 L282.8 298.8 L285.7 299.7 L288.6 300.2 L291.7 299.9 L294.3 301.6 L297.2 302.2 L299.9 303.5 L304.4 304.2 L308.6 305.9 L312.2 307.5 M278.6 332.9 L281.8 332.3 L284.5 330.4 L287.2 328.6 L290.2 327.7 L293 327 L295.7 325.5 L298.6 326.4 L301.5 326.2 L304.4 326.8 L307.2 327.4 L310.3 327.2 L312.8 329.3 L315.9 328.8 L318.8 329.8 L321.5 331.5" stroke-width="3.6"/><path d="M22.5 68.2 L23.7 69 M355.8 70 L354.9 73.1 L353 75.8 L350 77.1 L347.6 79.3 L344.6 79.4 L343.4 81.9 L341.7 83.8 L340.7 86 L338.5 88.4 L338.1 91.5 L339.9 94.2 L339.4 97.5 L341.7 101.8 L343 104.5 L344.4 107.2 M335.8 128.7 L338.5 129.9 L341.4 130.4 L344.3 131.2 L347.2 131 L350.2 131.4 L353 130.3 L355.7 129 L358.6 128.4 L361.6 128.2 L364.7 127.9 L367.2 125 L369.9 122.6 L373.3 122.3 L375.8 120.1 L378.7 120.3 L381.5 120.3 L384.5 120 L387.3 120.8 M344.4 118.7 L347.1 119.8 L350.1 120 L352.6 121.8 L354 124.7 L357.2 128 M290 230.1 L293.5 231.5 L297.3 231.7 L299.7 232.8 L301.9 234.3 L304.3 234.9 L307.9 234.8 L311.4 234.2 L315 234.7 L318.6 234.5 L322.4 234.3 L325.9 235 L329.3 236.6 L333 236.9 L336.5 237.6 L340.1 238 L343.6 237.1 L347.2 236.1 L350.9 236.6 L354.4 237.7 L357.1 239.2 L360.3 238.8 L363.2 239.2 L365.9 241.3 L368.9 239.7 L371.5 237.8 L373.1 235.2 L375.9 233.6 M354.4 212.2 L355.2 214.7 L356.8 216.7 L358.5 218.7 L360.1 220.7 L363.2 222.2 L365.6 224.7 L367.4 226.4 L370.2 227 L371.5 229.4 L374.2 231 L375.9 233.6 M274.3 298.6 L273.9 301.5 L273.6 304.3 L273.8 307.2 L273.5 310 L272.7 312.8 L272.9 315.8" stroke-width="4"/><path d="M303.6 91.5 L306.1 92 L308.7 92.8 L310.3 95 L313 95.7 L315.4 97.1 L317.7 98.9 L319.3 101.5 L319.9 104.4 L319.6 107.3 L318.2 109.9 L317.8 113.2 L316.4 116.2 L314.1 119.1 L311 121.2 L309.7 123.3 L307.6 124.8 L305.4 125.8 L302.8 126.5 L300 127.3" stroke-width="4.5"/><path d="M352.2 206.4 L353.3 209.9 L352.4 213.6 L352.3 216.4 L351.3 219.2 L349.8 221.9 L348.9 224.9 L347.9 228.5 L347.2 232.2" stroke-width="5"/><path d="M285.8 66.7 L288.2 69.1 M384.3 77.2 L386.6 78.3 L388.4 80.3 L391.7 82.9 L389.1 84 L387.6 86.5 L384.3 87.2" stroke-width="6"/></g></defs><g transform="translate(0,0)"><rect x="21" y="54" width="467" height="386.5" fill="#fff5eb"/><g clip-path="url(#pc)"><path d="M105.7 211.8 L126.4 207.7 L147.1 209.8 L167.8 213.9 L174 222.2 L174 240.8 L163.6 249 L147.1 247 L126.4 244.9 L111.9 244.9 L107.8 236.6 L109.9 224.2Z" fill="#fdd9b4" fill-opacity="0.6"/><path d="M126.4 176.7 L140.9 178.7 L142.9 187 L130.5 187Z" fill="#fdd9b4" fill-opacity="0.6"/><path d="M311.5 197.4 L324 197.4 L324 205.6 L311.5 205.6Z" fill="#fdd9b4" fill-opacity="0.6"/><path d="M116.1 255 L178.1 255 L178.1 263.3 L147.1 265.3 L120.2 267.4Z" fill="#fdd9b4" fill-opacity="0.6"/><path d="M101.6 187 L107.8 178.7 L116.1 176.7 L120.2 172.5 L126.4 172.5 L130.5 178.7 L136.7 184.9 L145 187 L153.3 184.9 L161.5 182.9 L169.8 184.9 L178.1 184.9 L186.4 180.8 L192.6 178.7 L198.8 176.7 L207 178.7 L215.3 176.7 L221.5 172.5 L227.7 172.5 L231.8 176.7 L236 187 L240.1 195.3 L238 203.6 L240.1 207.7 L255.4 211.8 L255.4 255 L219.4 255 L207 249 L194.6 249 L186.4 244.9 L184.3 232.5 L192.6 228.4 L202.9 228.4 L211.2 224.2 L219.4 222.2 L223.6 216 L215.3 213.9 L207 216 L198.8 216 L190.5 218 L182.2 213.9 L178.1 207.7 L174 211.8 L165.7 211.8 L157.4 209.8 L149.1 207.7 L145 203.6 L140.9 199.4 L132.6 203.6 L124.3 205.6 L116.1 207.7 L107.8 209.8 L103.7 203.6 L101.6 195.3Z" fill="#fdd9b4"/><path d="M178.1 207.7 L190.5 218 L207 216 L223.6 216 L219.4 222.2 L202.9 228.4 L184.3 232.5 L178.1 222.2Z" fill="#fdd9b4"/><path d="M221.5 166.3 L231.8 164.3 L240.1 162.2 L255.4 162.2 L255.4 178.7 L240.1 178.7 L229.8 174.6Z" fill="#fdd9b4"/><path d="M245.4 162.2 L255.7 160.1 L268.1 160.1 L268.1 172.5 L266.1 180.8 L257.8 182.9 L245.4 181.8Z" fill="#fdd9b4"/><path d="M228 172 L256 176 L256 212 L240 208 L236 190Z" fill="#fdd9b4"/><path d="M258 186 L262 186 L262 189 L258 189Z" fill="#fdd9b4"/><path d="M268 190 L273 190 L273 193 L268 193Z" fill="#fdd9b4"/><path d="M262 194 L265 194 L265 197 L262 197Z" fill="#fdd9b4"/><path d="M290.9 166.3 L301.2 168.4 L299.1 174.6 L292.9 176.7Z" fill="#fdd9b4"/><path d="M245.4 203.6 L257.8 201.5 L270.2 199.4 L282.6 201.5 L295 203.6 L307.4 205.6 L313.6 211.8 L309.5 222.2 L313.6 232.5 L319.8 236.6 L328.1 240.8 L334.3 236.6 L344.6 240.8 L352.9 244.9 L361.2 249 L369.4 247 L373.6 255 L245.4 255Z" fill="#fdd9b4"/><path d="M184.3 255 L255.4 255 L255.4 283.9 L240.1 286 L227.7 283.9 L211.2 281.9 L198.8 286 L190.5 281.9 L186.4 271.5 L184.3 263.3Z" fill="#fdd9b4"/><path d="M245.4 255 L377.7 255 L373.6 263.3 L369.4 275.7 L365.3 286 L361.2 296.3 L357 302.5 L352.9 296.3 L348.8 290.1 L340.5 286 L332.2 283.9 L326 286 L321.9 290.1 L317.8 298.4 L315.7 304.6 L311.5 306.7 L307.4 312.9 L313.6 317 L317.8 323.2 L315.7 329.4 L307.4 329.4 L301.2 323.2 L295 319.1 L286.7 317 L280.5 317 L278.5 310.8 L276.4 302.5 L272.3 296.3 L266.1 288.1 L257.8 286 L249.5 286 L245.4 283.9Z" fill="#fdd9b4"/><path d="M332.2 304.6 L348.8 306.7 L346.7 312.9 L336.4 312.9Z" fill="#fdd9b4"/><path d="M365.3 189.1 L375.6 187 L377.7 197.4 L375.6 211.8 L369.4 216 L365.3 207.7 L363.2 195.3Z" fill="#fdd9b4"/><path d="M373.6 160.1 L381.8 160.1 L383.9 172.5 L377.7 174.6 L371.5 172.5Z" fill="#fdd9b4"/><path d="M332.2 203.6 L342.6 203.6 L346.7 213.9 L340.5 220.1 L332.2 218Z" fill="#fdd9b4"/><path d="M101.6 187 L107.8 178.7 L116.1 176.7 L120.2 172.5 L126.4 172.5 L130.5 178.7 L136.7 184.9 L145 187 L153.3 184.9 L161.5 182.9 L169.8 184.9 L178.1 184.9 L186.4 180.8 L192.6 178.7 L198.8 176.7 L207 178.7 L215.3 176.7 L221.5 172.5 L227.7 172.5 L231.8 176.7 L236 187 L240.1 195.3 L238 203.6 L240.1 207.7 L255.4 211.8 L255.4 255 L219.4 255 L207 249 L194.6 249 L186.4 244.9 L184.3 232.5 L192.6 228.4 L202.9 228.4 L211.2 224.2 L219.4 222.2 L223.6 216 L215.3 213.9 L207 216 L198.8 216 L190.5 218 L182.2 213.9 L178.1 207.7 L174 211.8 L165.7 211.8 L157.4 209.8 L149.1 207.7 L145 203.6 L140.9 199.4 L132.6 203.6 L124.3 205.6 L116.1 207.7 L107.8 209.8 L103.7 203.6 L101.6 195.3Z" fill="#fda762" fill-opacity="0.75"/><path d="M178.1 207.7 L190.5 218 L207 216 L223.6 216 L219.4 222.2 L202.9 228.4 L184.3 232.5 L178.1 222.2Z" fill="#fda762" fill-opacity="0.75"/><path d="M221.5 166.3 L231.8 164.3 L240.1 162.2 L255.4 162.2 L255.4 178.7 L240.1 178.7 L229.8 174.6Z" fill="#fda762" fill-opacity="0.75"/><path d="M245.4 162.2 L255.7 160.1 L268.1 160.1 L268.1 172.5 L266.1 180.8 L257.8 182.9 L245.4 181.8Z" fill="#fda762" fill-opacity="0.75"/><path d="M228 172 L256 176 L256 212 L240 208 L236 190Z" fill="#fda762" fill-opacity="0.75"/><path d="M258 186 L262 186 L262 189 L258 189Z" fill="#fda762" fill-opacity="0.75"/><path d="M268 190 L273 190 L273 193 L268 193Z" fill="#fda762" fill-opacity="0.75"/><path d="M262 194 L265 194 L265 197 L262 197Z" fill="#fda762" fill-opacity="0.75"/><path d="M290.9 166.3 L301.2 168.4 L299.1 174.6 L292.9 176.7Z" fill="#fda762" fill-opacity="0.75"/><path d="M245.4 203.6 L257.8 201.5 L270.2 199.4 L282.6 201.5 L295 203.6 L307.4 205.6 L313.6 211.8 L309.5 222.2 L313.6 232.5 L319.8 236.6 L328.1 240.8 L334.3 236.6 L344.6 240.8 L352.9 244.9 L361.2 249 L369.4 247 L373.6 255 L245.4 255Z" fill="#fda762" fill-opacity="0.75"/><path d="M184.3 255 L255.4 255 L255.4 283.9 L240.1 286 L227.7 283.9 L211.2 281.9 L198.8 286 L190.5 281.9 L186.4 271.5 L184.3 263.3Z" fill="#fda762" fill-opacity="0.72"/><path d="M245.4 255 L377.7 255 L373.6 263.3 L369.4 275.7 L365.3 286 L361.2 296.3 L357 302.5 L352.9 296.3 L348.8 290.1 L340.5 286 L332.2 283.9 L326 286 L321.9 290.1 L317.8 298.4 L315.7 304.6 L311.5 306.7 L307.4 312.9 L313.6 317 L317.8 323.2 L315.7 329.4 L307.4 329.4 L301.2 323.2 L295 319.1 L286.7 317 L280.5 317 L278.5 310.8 L276.4 302.5 L272.3 296.3 L266.1 288.1 L257.8 286 L249.5 286 L245.4 283.9Z" fill="#fda762" fill-opacity="0.72"/><path d="M332.2 304.6 L348.8 306.7 L346.7 312.9 L336.4 312.9Z" fill="#fda762" fill-opacity="0.72"/><path d="M365.3 189.1 L375.6 187 L377.7 197.4 L375.6 211.8 L369.4 216 L365.3 207.7 L363.2 195.3Z" fill="#fda762" fill-opacity="0.6"/><path d="M373.6 160.1 L381.8 160.1 L383.9 172.5 L377.7 174.6 L371.5 172.5Z" fill="#fda762" fill-opacity="0.6"/><path d="M332.2 203.6 L342.6 203.6 L346.7 213.9 L340.5 220.1 L332.2 218Z" fill="#fda762" fill-opacity="0.6"/><path d="M171.9 288.1 L182.2 290.1 L192.6 292.2 L200.8 290.1 L202.9 296.3 L198.8 306.7 L190.5 308.7 L186.4 312.9 L188.4 321.1 L184.3 329.4 L178.1 335.6 L171.9 337.7 L165.7 335.6 L161.5 331.5 L163.6 323.2 L169.8 314.9 L171.9 306.7 L174 296.3Z" fill="#fdd9b4"/><path d="M130.5 310.8 L136.7 310.8 L140.9 317 L149.1 321.1 L153.3 325.3 L147.1 327.4 L136.7 323.2 L132.6 317Z" fill="#fdd9b4"/><path d="M136.7 125 L145 125 L145 131.2 L136.7 131.2Z" fill="#f3701b"/><path d="M167.8 129.1 L176 129.1 L176 135.3 L167.8 135.3Z" fill="#f3701b"/><path d="M178.1 125 L184.3 125 L184.3 128.1 L178.1 128.1Z" fill="#f3701b"/><path d="M148.1 167.4 L155.3 167.4 L155.3 170.5 L148.1 170.5Z" fill="#f3701b"/><path d="M186.4 163.2 L190.5 163.2 L190.5 166.3 L186.4 166.3Z" fill="#f3701b"/><path d="M330.2 161.8 L336.4 161.8 L336.4 164.3 L330.2 164.3Z" fill="#fdd9b4"/><path d="M344.6 163.9 L347.7 163.9 L347.7 166.3 L344.6 166.3Z" fill="#fdd9b4"/><path d="M340.5 186.6 L346.7 186.6 L346.7 189.1 L340.5 189.1Z" fill="#fdd9b4"/><path d="M352.9 192.8 L361.2 192.8 L361.2 195.7 L352.9 195.7Z" fill="#fdd9b4"/><path d="M116.1 321.1 L122.3 321.1 L122.3 328.4 L116.1 328.4Z" fill="#fdd9b4"/><path d="M126.4 304.2 L129.5 304.2 L129.5 306.7 L126.4 306.7Z" fill="#fdd9b4"/><path d="M147.1 301.1 L150.2 301.1 L150.2 303.6 L147.1 303.6Z" fill="#fdd9b4"/><path d="M157.4 338.7 L163.6 338.7 L163.6 341.8 L157.4 341.8Z" fill="#fdd9b4"/><path d="M186.4 329.4 L192.6 329.4 L192.6 332.5 L186.4 332.5Z" fill="#fdd9b4"/><path d="M248.4 314.5 L252.5 314.5 L252.5 317 L248.4 317Z" fill="#fdd9b4"/><path d="M147.1 334.2 L155.3 334.2 L155.3 336.7 L147.1 336.7Z" fill="#fdd9b4"/><path d="M105.9 176.3 L121.7 173.1 L131.3 182.7 L140.8 189 L153.5 192.2 L159.9 204.9 L147.2 208.1 L131.3 204.9 L115.4 208.1 L106 203Z" fill="#f3701b"/><path d="M149.1 187 L163.6 184.9 L178.1 187 L186.4 189.1 L182.2 193.2 L169.8 193.2 L157.4 191.1Z" fill="#f3701b"/><path d="M219.4 222.2 L236 220.1 L244.2 228.4 L240.1 236.6 L227.7 232.5Z" fill="#f3701b"/><path d="M307.4 211.8 L328.1 213.9 L332.2 222.2 L324 228.4 L313.6 224.2Z" fill="#f3701b"/><path d="M313.6 273.6 L342.6 273.6 L344.6 286 L332.2 283.9 L321.9 286Z" fill="#f3701b"/><path d="M352.9 267.4 L363.2 267.4 L365.3 286 L357 288.1Z" fill="#f3701b"/><path d="M284.7 279.8 L299.1 279.8 L297.1 292.2 L286.7 292.2Z" fill="#f3701b"/><path d="M157 192 L180 186 L205 192 L200 206 L175 208 L158 203Z" fill="#f3701b"/><path d="M226 216 L250 213 L287 226 L282 236 L255 233 L228 226Z" fill="#f3701b"/><path d="M289 206 L318 204 L321 220 L300 225 L288 218Z" fill="#f3701b"/><path d="M192 240 L222 238 L226 252 L200 259 L191 250Z" fill="#f3701b"/><path d="M310 270 L340 266 L362 272 L360 292 L335 298 L312 290Z" fill="#f3701b"/><path d="M343 260 L366 259 L369 290 L350 293Z" fill="#f3701b"/><path d="M408 56.5 L428 56.5 L428 60.5 L408 60.5Z" fill="#fda762"/><path d="M437 61 L441 61 L441 64 L437 64Z" fill="#fda762"/><path d="M384 82 L392 82 L392 93 L384 93Z" fill="#fda762"/><path d="M211 432 L217 432 L217 439 L211 439Z" fill="#fda762"/><path d="M157.4 187 L167.8 186 L174 189.1 L165.7 191.1Z" fill="#7f2704"/><path d="M124.4 183.0h5.6v6.1h-5.6ZM118.0 189.4h5.6v5.5h-5.6ZM150.0 189.4h4.5v5.5h-4.5ZM111.6 202.2h4.7v5.8h-4.7ZM316.4 266.2h4.9v4.2h-4.9ZM290.8 279.0h5.3v6.2h-5.3ZM329.2 285.4h4.4v5.5h-4.4ZM335.6 285.4h4.1v4.0h-4.1ZM361.2 285.4h6.1v5.4h-6.1Z" fill="#fff5eb"/><path d="M118.0 176.6h4.4v6.4h-4.4ZM105.2 183.0h3.7v5.1h-3.7ZM130.8 189.4h5.8v6.2h-5.8ZM156.4 195.8h6.1v6.0h-6.1ZM150.0 202.2h6.0v5.2h-6.0ZM188.4 202.2h5.3v4.6h-5.3ZM310.0 202.2h5.2v5.3h-5.2ZM297.2 208.6h3.7v5.4h-3.7ZM303.6 208.6h6.4v6.1h-6.4ZM297.2 215.0h5.6v4.6h-5.6ZM265.2 221.4h5.6v5.2h-5.6ZM233.2 227.8h4.8v5.9h-4.8ZM239.6 227.8h3.7v5.7h-3.7ZM361.2 259.8h3.6v5.2h-3.6ZM322.8 272.6h5.5v4.9h-5.5ZM322.8 279.0h4.2v3.5h-4.2Z" fill="#fda762"/><use href="#ln"/></g><rect x="21" y="54" width="467" height="386.5" fill="none" stroke="#000" stroke-width="1.9"/><text transform="translate(15.8,90.4) rotate(-90)" text-anchor="middle" class="tk">33.5°S</text><text transform="translate(15.8,305) rotate(-90)" text-anchor="middle" class="tk">34°S</text><text x="40.6" y="456.4" text-anchor="middle" class="tk">150.5°E</text><text x="255.3" y="456.4" text-anchor="middle" class="tk">151°E</text><text x="439" y="456.4" class="tk">151.5°</text></g><g transform="translate(502,0)"><rect x="21" y="54" width="467" height="386.5" fill="#fff5eb"/><g clip-path="url(#pc)"><path d="M105.7 211.8 L126.4 207.7 L147.1 209.8 L167.8 213.9 L174 222.2 L174 240.8 L163.6 249 L147.1 247 L126.4 244.9 L111.9 244.9 L107.8 236.6 L109.9 224.2Z" fill="#fdd9b4" fill-opacity="0.6"/><path d="M126.4 176.7 L140.9 178.7 L142.9 187 L130.5 187Z" fill="#fdd9b4" fill-opacity="0.6"/><path d="M311.5 197.4 L324 197.4 L324 205.6 L311.5 205.6Z" fill="#fdd9b4" fill-opacity="0.6"/><path d="M116.1 255 L178.1 255 L178.1 263.3 L147.1 265.3 L120.2 267.4Z" fill="#fdd9b4" fill-opacity="0.6"/><path d="M101.6 187 L107.8 178.7 L116.1 176.7 L120.2 172.5 L126.4 172.5 L130.5 178.7 L136.7 184.9 L145 187 L153.3 184.9 L161.5 182.9 L169.8 184.9 L178.1 184.9 L186.4 180.8 L192.6 178.7 L198.8 176.7 L207 178.7 L215.3 176.7 L221.5 172.5 L227.7 172.5 L231.8 176.7 L236 187 L240.1 195.3 L238 203.6 L240.1 207.7 L255.4 211.8 L255.4 255 L219.4 255 L207 249 L194.6 249 L186.4 244.9 L184.3 232.5 L192.6 228.4 L202.9 228.4 L211.2 224.2 L219.4 222.2 L223.6 216 L215.3 213.9 L207 216 L198.8 216 L190.5 218 L182.2 213.9 L178.1 207.7 L174 211.8 L165.7 211.8 L157.4 209.8 L149.1 207.7 L145 203.6 L140.9 199.4 L132.6 203.6 L124.3 205.6 L116.1 207.7 L107.8 209.8 L103.7 203.6 L101.6 195.3Z" fill="#f3701b"/><path d="M178.1 207.7 L190.5 218 L207 216 L223.6 216 L219.4 222.2 L202.9 228.4 L184.3 232.5 L178.1 222.2Z" fill="#f3701b"/><path d="M221.5 166.3 L231.8 164.3 L240.1 162.2 L255.4 162.2 L255.4 178.7 L240.1 178.7 L229.8 174.6Z" fill="#f3701b"/><path d="M245.4 162.2 L255.7 160.1 L268.1 160.1 L268.1 172.5 L266.1 180.8 L257.8 182.9 L245.4 181.8Z" fill="#f3701b"/><path d="M228 172 L256 176 L256 212 L240 208 L236 190Z" fill="#f3701b"/><path d="M258 186 L262 186 L262 189 L258 189Z" fill="#f3701b"/><path d="M268 190 L273 190 L273 193 L268 193Z" fill="#f3701b"/><path d="M262 194 L265 194 L265 197 L262 197Z" fill="#f3701b"/><path d="M290.9 166.3 L301.2 168.4 L299.1 174.6 L292.9 176.7Z" fill="#f3701b"/><path d="M245.4 203.6 L257.8 201.5 L270.2 199.4 L282.6 201.5 L295 203.6 L307.4 205.6 L313.6 211.8 L309.5 222.2 L313.6 232.5 L319.8 236.6 L328.1 240.8 L334.3 236.6 L344.6 240.8 L352.9 244.9 L361.2 249 L369.4 247 L373.6 255 L245.4 255Z" fill="#f3701b"/><path d="M184.3 255 L255.4 255 L255.4 283.9 L240.1 286 L227.7 283.9 L211.2 281.9 L198.8 286 L190.5 281.9 L186.4 271.5 L184.3 263.3Z" fill="#f3701b"/><path d="M245.4 255 L377.7 255 L373.6 263.3 L369.4 275.7 L365.3 286 L361.2 296.3 L357 302.5 L352.9 296.3 L348.8 290.1 L340.5 286 L332.2 283.9 L326 286 L321.9 290.1 L317.8 298.4 L315.7 304.6 L311.5 306.7 L307.4 312.9 L313.6 317 L317.8 323.2 L315.7 329.4 L307.4 329.4 L301.2 323.2 L295 319.1 L286.7 317 L280.5 317 L278.5 310.8 L276.4 302.5 L272.3 296.3 L266.1 288.1 L257.8 286 L249.5 286 L245.4 283.9Z" fill="#f3701b"/><path d="M332.2 304.6 L348.8 306.7 L346.7 312.9 L336.4 312.9Z" fill="#f3701b"/><path d="M365.3 189.1 L375.6 187 L377.7 197.4 L375.6 211.8 L369.4 216 L365.3 207.7 L363.2 195.3Z" fill="#f3701b"/><path d="M373.6 160.1 L381.8 160.1 L383.9 172.5 L377.7 174.6 L371.5 172.5Z" fill="#f3701b"/><path d="M332.2 203.6 L342.6 203.6 L346.7 213.9 L340.5 220.1 L332.2 218Z" fill="#f3701b"/><path d="M171.9 288.1 L182.2 290.1 L192.6 292.2 L200.8 290.1 L202.9 296.3 L198.8 306.7 L190.5 308.7 L186.4 312.9 L188.4 321.1 L184.3 329.4 L178.1 335.6 L171.9 337.7 L165.7 335.6 L161.5 331.5 L163.6 323.2 L169.8 314.9 L171.9 306.7 L174 296.3Z" fill="#f3701b"/><path d="M130.5 310.8 L136.7 310.8 L140.9 317 L149.1 321.1 L153.3 325.3 L147.1 327.4 L136.7 323.2 L132.6 317Z" fill="#f3701b"/><path d="M136.7 125 L145 125 L145 131.2 L136.7 131.2Z" fill="#f3701b"/><path d="M167.8 129.1 L176 129.1 L176 135.3 L167.8 135.3Z" fill="#f3701b"/><path d="M178.1 125 L184.3 125 L184.3 128.1 L178.1 128.1Z" fill="#f3701b"/><path d="M148.1 167.4 L155.3 167.4 L155.3 170.5 L148.1 170.5Z" fill="#f3701b"/><path d="M186.4 163.2 L190.5 163.2 L190.5 166.3 L186.4 166.3Z" fill="#f3701b"/><path d="M330.2 161.8 L336.4 161.8 L336.4 164.3 L330.2 164.3Z" fill="#f3701b"/><path d="M344.6 163.9 L347.7 163.9 L347.7 166.3 L344.6 166.3Z" fill="#f3701b"/><path d="M340.5 186.6 L346.7 186.6 L346.7 189.1 L340.5 189.1Z" fill="#f3701b"/><path d="M352.9 192.8 L361.2 192.8 L361.2 195.7 L352.9 195.7Z" fill="#f3701b"/><path d="M116.1 321.1 L122.3 321.1 L122.3 328.4 L116.1 328.4Z" fill="#f3701b"/><path d="M126.4 304.2 L129.5 304.2 L129.5 306.7 L126.4 306.7Z" fill="#f3701b"/><path d="M147.1 301.1 L150.2 301.1 L150.2 303.6 L147.1 303.6Z" fill="#f3701b"/><path d="M157.4 338.7 L163.6 338.7 L163.6 341.8 L157.4 341.8Z" fill="#f3701b"/><path d="M186.4 329.4 L192.6 329.4 L192.6 332.5 L186.4 332.5Z" fill="#f3701b"/><path d="M248.4 314.5 L252.5 314.5 L252.5 317 L248.4 317Z" fill="#f3701b"/><path d="M147.1 334.2 L155.3 334.2 L155.3 336.7 L147.1 336.7Z" fill="#f3701b"/><path d="M171.9 199.4 L177.1 199.4 L177.1 204.6 L171.9 204.6Z" fill="#fff5eb"/><path d="M184.3 197.4 L192.6 197.4 L192.6 205.6 L184.3 205.6Z" fill="#fff5eb"/><path d="M116.1 187 L121.2 187 L121.2 191.1 L116.1 191.1Z" fill="#fff5eb"/><path d="M207 187 L213.2 187 L213.2 192.2 L207 192.2Z" fill="#fff5eb"/><path d="M270.2 211.8 L276.4 211.8 L276.4 217 L270.2 217Z" fill="#fff5eb"/><path d="M266.1 240.8 L272.3 240.8 L272.3 247 L266.1 247Z" fill="#fff5eb"/><path d="M315.7 273.6 L321.9 273.6 L321.9 277.7 L315.7 277.7Z" fill="#fff5eb"/><path d="M198.8 234.6 L205 234.6 L205 239.7 L198.8 239.7Z" fill="#fff5eb"/><path d="M408 56.5 L428 56.5 L428 60.5 L408 60.5Z" fill="#f3701b"/><path d="M437 61 L441 61 L441 64 L437 64Z" fill="#f3701b"/><path d="M384 82 L392 82 L392 93 L384 93Z" fill="#f3701b"/><path d="M211 432 L217 432 L217 439 L211 439Z" fill="#f3701b"/><path d="M103.7 187 L107.8 178.7 L116.1 176.7 L120.2 172.5 L126.4 172.5 L130.5 178.7 L136.7 184.9 L145 187 L153.3 184.9 L161.5 182.9 L169.8 184.9 L178.1 184.9 L186.4 180.8 L192.6 178.7 L198.8 178.7 L202.9 182.9 L198.8 191.1 L190.5 195.3 L182.2 203.6 L174 207.7 L165.7 209.8 L157.4 207.7 L149.1 205.6 L142.9 201.5 L136.7 199.4 L128.5 203.6 L120.2 205.6 L111.9 207.7 L105.7 203.6Z" fill="#c54102"/><path d="M211.2 207.7 L227.7 207.7 L236 211.8 L240.1 220.1 L236 224.2 L223.6 222.2 L215.3 216Z" fill="#c54102"/><path d="M227.7 220.1 L248.4 222.2 L252.5 232.5 L244.2 236.6 L231.8 232.5Z" fill="#c54102"/><path d="M245.4 162.2 L255.7 160.1 L268.1 160.1 L268.1 172.5 L264 179.8 L253.7 181.2 L245.4 179.8Z" fill="#c54102"/><path d="M245.4 207.7 L266.1 207.7 L268.1 224.2 L257.8 228.4 L245.4 224.2Z" fill="#c54102"/><path d="M286.7 207.7 L307.4 209.8 L307.4 224.2 L292.9 226.3Z" fill="#c54102"/><path d="M348.8 263.3 L363.2 263.3 L364.3 290.1 L357 288.1 L350.8 275.7Z" fill="#c54102"/><path d="M292.9 281.9 L313.6 281.9 L313.6 294.3 L299.1 294.3Z" fill="#c54102"/><path d="M334.3 306.7 L346.7 306.7 L346.7 311.8 L334.3 311.8Z" fill="#c54102"/><path d="M103.4 188.2 L116.1 175.6 L137.1 171.3 L158.2 175.6 L179.3 171.3 L204.5 171.3 L221.4 167.1 L246.7 165 L263.5 162.9 L267.7 179.8 L255.1 196.6 L238.2 205 L221.4 209.3 L204.5 215.6 L187.7 215.6 L170.8 209.3 L154 202.9 L137.1 207.2 L120.3 209.3 L105.5 202.9Z" fill="#c54102"/><path d="M124.3 184.9 L130.5 187 L138.8 193.2 L136.7 199.4 L128.5 203.6 L124.3 195.3Z" fill="#7f2704"/><path d="M163.6 187 L178.1 189.1 L182.2 195.3 L174 197.4 L165.7 195.3Z" fill="#7f2704"/><path d="M214.0 170.2h4.0v4.3h-4.0ZM226.8 170.2h4.0v5.7h-4.0ZM258.8 170.2h4.4v5.1h-4.4ZM105.2 176.6h5.9v4.9h-5.9ZM130.8 176.6h4.3v6.1h-4.3ZM201.2 176.6h6.2v4.5h-6.2ZM175.6 189.4h5.8v4.6h-5.8ZM246.0 195.8h5.4v4.2h-5.4ZM246.0 202.2h4.0v4.0h-4.0ZM220.4 215.0h3.9v5.7h-3.9ZM303.6 215.0h5.6v3.8h-5.6ZM297.2 221.4h6.0v4.4h-6.0ZM233.2 227.8h5.8v4.7h-5.8ZM284.4 234.2h5.9v4.1h-5.9ZM258.8 240.6h5.1v5.0h-5.1ZM258.8 247.0h4.9v5.6h-4.9ZM188.4 253.4h3.8v4.6h-3.8ZM201.2 253.4h4.8v6.3h-4.8ZM188.4 266.2h5.3v4.3h-5.3ZM278.0 285.4h3.8v4.2h-3.8ZM303.6 323.8h4.7v5.5h-4.7Z" fill="#fff5eb"/><path d="M290.8 202.2h4.4v4.3h-4.4ZM329.2 202.2h6.0v5.0h-6.0ZM175.6 215.0h5.3v6.4h-5.3ZM201.2 215.0h4.3v5.1h-4.3ZM265.2 234.2h6.2v3.8h-6.2ZM297.2 240.6h4.0v5.9h-4.0ZM316.4 240.6h4.4v4.4h-4.4ZM239.6 247.0h3.7v4.4h-3.7ZM303.6 247.0h4.5v5.5h-4.5ZM239.6 253.4h5.9v5.4h-5.9ZM258.8 253.4h3.5v4.6h-3.5ZM342.0 253.4h5.6v4.2h-5.6ZM367.6 253.4h5.1v4.8h-5.1ZM188.4 259.8h3.5v6.4h-3.5ZM271.6 259.8h5.8v4.1h-5.8ZM194.8 266.2h4.6v5.1h-4.6ZM220.4 266.2h4.4v4.5h-4.4ZM233.2 266.2h4.6v5.4h-4.6ZM239.6 266.2h4.2v4.1h-4.2ZM303.6 266.2h5.6v4.5h-5.6ZM310.0 266.2h6.2v5.1h-6.2ZM233.2 272.6h5.6v4.5h-5.6ZM246.0 272.6h5.9v3.8h-5.9ZM252.4 272.6h3.9v3.8h-3.9ZM290.8 272.6h5.5v5.6h-5.5ZM310.0 272.6h4.0v4.7h-4.0ZM194.8 279.0h5.9v5.2h-5.9ZM348.4 285.4h4.0v3.9h-4.0ZM182.0 291.8h4.7v3.7h-4.7ZM188.4 291.8h6.2v4.7h-6.2ZM278.0 291.8h5.0v5.4h-5.0ZM182.0 317.4h5.7v5.9h-5.7ZM303.6 317.4h4.6v4.5h-4.6ZM162.8 323.8h4.7v3.5h-4.7ZM310.0 323.8h6.3v5.8h-6.3Z" fill="#fda762"/><path d="M207.6 170.2h5.2v4.1h-5.2ZM143.6 183.0h4.9v4.1h-4.9ZM143.6 189.4h3.6v6.2h-3.6ZM188.4 189.4h5.0v5.0h-5.0ZM105.2 195.8h4.3v6.4h-4.3ZM124.4 202.2h3.5v4.9h-3.5ZM175.6 202.2h4.6v5.8h-4.6ZM233.2 202.2h5.6v5.3h-5.6ZM252.4 215.0h3.5v5.9h-3.5ZM290.8 215.0h6.0v5.9h-6.0ZM297.2 215.0h3.7v4.3h-3.7ZM233.2 221.4h4.9v4.9h-4.9ZM239.6 221.4h6.3v5.2h-6.3Z" fill="#f3701b"/><path d="M124.4 183.0h5.1v6.3h-5.1Z" fill="#c54102"/><use href="#ln"/></g><rect x="21" y="54" width="467" height="386.5" fill="none" stroke="#000" stroke-width="1.9"/><text transform="translate(15.8,90.4) rotate(-90)" text-anchor="middle" class="tk">33.5°S</text><text transform="translate(15.8,305) rotate(-90)" text-anchor="middle" class="tk">34°S</text><text x="40.6" y="456.4" text-anchor="middle" class="tk">150.5°E</text><text x="255.3" y="456.4" text-anchor="middle" class="tk">151°E</text><text x="439" y="456.4" class="tk">151.5°</text></g><g transform="translate(1004.6,0)"><rect x="21" y="54" width="467" height="386.5" fill="#fff5eb"/><g clip-path="url(#pc)"><path d="M105.7 211.8 L126.4 207.7 L147.1 209.8 L167.8 213.9 L174 222.2 L174 240.8 L163.6 249 L147.1 247 L126.4 244.9 L111.9 244.9 L107.8 236.6 L109.9 224.2Z" fill="#fdd9b4" fill-opacity="0.6"/><path d="M126.4 176.7 L140.9 178.7 L142.9 187 L130.5 187Z" fill="#fdd9b4" fill-opacity="0.6"/><path d="M311.5 197.4 L324 197.4 L324 205.6 L311.5 205.6Z" fill="#fdd9b4" fill-opacity="0.6"/><path d="M116.1 255 L178.1 255 L178.1 263.3 L147.1 265.3 L120.2 267.4Z" fill="#fdd9b4" fill-opacity="0.6"/><path d="M101.6 187 L107.8 178.7 L116.1 176.7 L120.2 172.5 L126.4 172.5 L130.5 178.7 L136.7 184.9 L145 187 L153.3 184.9 L161.5 182.9 L169.8 184.9 L178.1 184.9 L186.4 180.8 L192.6 178.7 L198.8 176.7 L207 178.7 L215.3 176.7 L221.5 172.5 L227.7 172.5 L231.8 176.7 L236 187 L240.1 195.3 L238 203.6 L240.1 207.7 L255.4 211.8 L255.4 255 L219.4 255 L207 249 L194.6 249 L186.4 244.9 L184.3 232.5 L192.6 228.4 L202.9 228.4 L211.2 224.2 L219.4 222.2 L223.6 216 L215.3 213.9 L207 216 L198.8 216 L190.5 218 L182.2 213.9 L178.1 207.7 L174 211.8 L165.7 211.8 L157.4 209.8 L149.1 207.7 L145 203.6 L140.9 199.4 L132.6 203.6 L124.3 205.6 L116.1 207.7 L107.8 209.8 L103.7 203.6 L101.6 195.3Z" fill="#c54102"/><path d="M178.1 207.7 L190.5 218 L207 216 L223.6 216 L219.4 222.2 L202.9 228.4 L184.3 232.5 L178.1 222.2Z" fill="#c54102"/><path d="M221.5 166.3 L231.8 164.3 L240.1 162.2 L255.4 162.2 L255.4 178.7 L240.1 178.7 L229.8 174.6Z" fill="#c54102"/><path d="M245.4 162.2 L255.7 160.1 L268.1 160.1 L268.1 172.5 L266.1 180.8 L257.8 182.9 L245.4 181.8Z" fill="#c54102"/><path d="M228 172 L256 176 L256 212 L240 208 L236 190Z" fill="#c54102"/><path d="M258 186 L262 186 L262 189 L258 189Z" fill="#c54102"/><path d="M268 190 L273 190 L273 193 L268 193Z" fill="#c54102"/><path d="M262 194 L265 194 L265 197 L262 197Z" fill="#c54102"/><path d="M290.9 166.3 L301.2 168.4 L299.1 174.6 L292.9 176.7Z" fill="#c54102"/><path d="M245.4 203.6 L257.8 201.5 L270.2 199.4 L282.6 201.5 L295 203.6 L307.4 205.6 L313.6 211.8 L309.5 222.2 L313.6 232.5 L319.8 236.6 L328.1 240.8 L334.3 236.6 L344.6 240.8 L352.9 244.9 L361.2 249 L369.4 247 L373.6 255 L245.4 255Z" fill="#c54102"/><path d="M184.3 255 L255.4 255 L255.4 283.9 L240.1 286 L227.7 283.9 L211.2 281.9 L198.8 286 L190.5 281.9 L186.4 271.5 L184.3 263.3Z" fill="#c54102"/><path d="M245.4 255 L377.7 255 L373.6 263.3 L369.4 275.7 L365.3 286 L361.2 296.3 L357 302.5 L352.9 296.3 L348.8 290.1 L340.5 286 L332.2 283.9 L326 286 L321.9 290.1 L317.8 298.4 L315.7 304.6 L311.5 306.7 L307.4 312.9 L313.6 317 L317.8 323.2 L315.7 329.4 L307.4 329.4 L301.2 323.2 L295 319.1 L286.7 317 L280.5 317 L278.5 310.8 L276.4 302.5 L272.3 296.3 L266.1 288.1 L257.8 286 L249.5 286 L245.4 283.9Z" fill="#c54102"/><path d="M332.2 304.6 L348.8 306.7 L346.7 312.9 L336.4 312.9Z" fill="#c54102"/><path d="M365.3 189.1 L375.6 187 L377.7 197.4 L375.6 211.8 L369.4 216 L365.3 207.7 L363.2 195.3Z" fill="#c54102"/><path d="M373.6 160.1 L381.8 160.1 L383.9 172.5 L377.7 174.6 L371.5 172.5Z" fill="#c54102"/><path d="M332.2 203.6 L342.6 203.6 L346.7 213.9 L340.5 220.1 L332.2 218Z" fill="#c54102"/><path d="M171.9 288.1 L182.2 290.1 L192.6 292.2 L200.8 290.1 L202.9 296.3 L198.8 306.7 L190.5 308.7 L186.4 312.9 L188.4 321.1 L184.3 329.4 L178.1 335.6 L171.9 337.7 L165.7 335.6 L161.5 331.5 L163.6 323.2 L169.8 314.9 L171.9 306.7 L174 296.3Z" fill="#c54102"/><path d="M130.5 310.8 L136.7 310.8 L140.9 317 L149.1 321.1 L153.3 325.3 L147.1 327.4 L136.7 323.2 L132.6 317Z" fill="#c54102"/><path d="M136.7 125 L145 125 L145 131.2 L136.7 131.2Z" fill="#c54102"/><path d="M167.8 129.1 L176 129.1 L176 135.3 L167.8 135.3Z" fill="#c54102"/><path d="M178.1 125 L184.3 125 L184.3 128.1 L178.1 128.1Z" fill="#c54102"/><path d="M148.1 167.4 L155.3 167.4 L155.3 170.5 L148.1 170.5Z" fill="#c54102"/><path d="M186.4 163.2 L190.5 163.2 L190.5 166.3 L186.4 166.3Z" fill="#c54102"/><path d="M330.2 161.8 L336.4 161.8 L336.4 164.3 L330.2 164.3Z" fill="#c54102"/><path d="M344.6 163.9 L347.7 163.9 L347.7 166.3 L344.6 166.3Z" fill="#c54102"/><path d="M340.5 186.6 L346.7 186.6 L346.7 189.1 L340.5 189.1Z" fill="#c54102"/><path d="M352.9 192.8 L361.2 192.8 L361.2 195.7 L352.9 195.7Z" fill="#c54102"/><path d="M116.1 321.1 L122.3 321.1 L122.3 328.4 L116.1 328.4Z" fill="#c54102"/><path d="M126.4 304.2 L129.5 304.2 L129.5 306.7 L126.4 306.7Z" fill="#c54102"/><path d="M147.1 301.1 L150.2 301.1 L150.2 303.6 L147.1 303.6Z" fill="#c54102"/><path d="M157.4 338.7 L163.6 338.7 L163.6 341.8 L157.4 341.8Z" fill="#c54102"/><path d="M186.4 329.4 L192.6 329.4 L192.6 332.5 L186.4 332.5Z" fill="#c54102"/><path d="M248.4 314.5 L252.5 314.5 L252.5 317 L248.4 317Z" fill="#c54102"/><path d="M147.1 334.2 L155.3 334.2 L155.3 336.7 L147.1 336.7Z" fill="#c54102"/><path d="M171.9 199.4 L177.1 199.4 L177.1 204.6 L171.9 204.6Z" fill="#fff5eb"/><path d="M184.3 197.4 L192.6 197.4 L192.6 205.6 L184.3 205.6Z" fill="#fff5eb"/><path d="M116.1 187 L121.2 187 L121.2 191.1 L116.1 191.1Z" fill="#fff5eb"/><path d="M207 187 L213.2 187 L213.2 192.2 L207 192.2Z" fill="#fff5eb"/><path d="M270.2 211.8 L276.4 211.8 L276.4 217 L270.2 217Z" fill="#fff5eb"/><path d="M266.1 240.8 L272.3 240.8 L272.3 247 L266.1 247Z" fill="#fff5eb"/><path d="M315.7 273.6 L321.9 273.6 L321.9 277.7 L315.7 277.7Z" fill="#fff5eb"/><path d="M198.8 234.6 L205 234.6 L205 239.7 L198.8 239.7Z" fill="#fff5eb"/><path d="M114 184.9 L120.2 178.7 L126.4 180.8 L130.5 187 L136.7 189.1 L142.9 191.1 L140.9 199.4 L132.6 203.6 L124.3 205.6 L116.1 205.6 L111.9 199.4Z" fill="#7f2704"/><path d="M145 187 L157.4 184.9 L165.7 184.9 L174 187 L182.2 189.1 L190.5 191.1 L192.6 199.4 L186.4 203.6 L178.1 205.6 L171.9 209.8 L163.6 207.7 L157.4 203.6 L149.1 201.5 L145 195.3Z" fill="#7f2704"/><path d="M245.4 224.2 L257.8 222.2 L266.1 232.5 L264 249 L251.6 255 L245.4 255Z" fill="#7f2704"/><path d="M307.4 255 L332.2 255 L332.2 267.4 L307.4 267.4Z" fill="#f3701b"/><path d="M286.7 279.8 L295 279.8 L295 296.3 L286.7 296.3Z" fill="#f3701b"/><path d="M169.8 312.9 L178.1 312.9 L178.1 319.1 L169.8 319.1Z" fill="#f3701b"/><path d="M311.5 240.8 L328.1 240.8 L328.1 255 L311.5 255Z" fill="#f3701b"/><path d="M408 56.5 L428 56.5 L428 60.5 L408 60.5Z" fill="#c54102"/><path d="M437 61 L441 61 L441 64 L437 64Z" fill="#c54102"/><path d="M384 82 L392 82 L392 93 L384 93Z" fill="#c54102"/><path d="M211 432 L217 432 L217 439 L211 439Z" fill="#c54102"/><path d="M418.8 55.0h4.0v6.0h-4.0ZM194.8 183.0h4.5v5.7h-4.5ZM105.2 189.4h5.9v5.9h-5.9ZM182.0 189.4h5.1v4.7h-5.1ZM258.8 202.2h5.5v4.7h-5.5ZM162.8 208.6h6.2v6.4h-6.2ZM169.2 208.6h3.6v5.6h-3.6ZM233.2 221.4h5.1v4.9h-5.1ZM194.8 227.8h5.8v5.9h-5.8ZM278.0 234.2h4.3v4.6h-4.3ZM188.4 240.6h5.3v5.7h-5.3ZM284.4 240.6h5.5v5.1h-5.5ZM265.2 247.0h6.2v4.2h-6.2ZM310.0 247.0h4.9v3.8h-4.9ZM361.2 247.0h5.1v3.9h-5.1ZM258.8 253.4h5.3v4.3h-5.3ZM278.0 259.8h3.6v3.7h-3.6ZM367.6 259.8h6.1v4.4h-6.1ZM252.4 266.2h4.1v6.0h-4.1ZM271.6 266.2h4.9v4.7h-4.9ZM214.0 272.6h5.8v4.6h-5.8ZM220.4 272.6h3.7v5.1h-3.7ZM290.8 279.0h4.8v5.9h-4.8ZM361.2 279.0h3.8v3.7h-3.8ZM310.0 291.8h4.5v5.7h-4.5ZM310.0 298.2h4.4v5.0h-4.4Z" fill="#fff5eb"/><path d="M322.8 240.6h5.8v3.9h-5.8Z" fill="#fda762"/><path d="M169.2 131.8h6.0v3.7h-6.0ZM374.0 170.2h4.2v5.0h-4.2ZM207.6 176.6h5.8v4.6h-5.8ZM188.4 183.0h5.6v4.4h-5.6ZM214.0 195.8h5.9v5.8h-5.9ZM220.4 195.8h3.9v4.6h-3.9ZM246.0 195.8h5.4v4.2h-5.4ZM226.8 202.2h5.2v6.2h-5.2ZM239.6 202.2h6.3v3.9h-6.3ZM284.4 202.2h5.3v4.7h-5.3ZM310.0 208.6h3.8v3.6h-3.8ZM329.2 208.6h4.3v5.6h-4.3ZM214.0 215.0h6.4v3.8h-6.4ZM201.2 221.4h4.5v3.6h-4.5ZM265.2 221.4h4.6v4.4h-4.6ZM226.8 240.6h6.3v4.6h-6.3ZM233.2 247.0h4.0v3.8h-4.0ZM354.8 247.0h4.4v3.6h-4.4ZM278.0 253.4h4.2v4.9h-4.2ZM252.4 259.8h4.6v4.3h-4.6ZM201.2 266.2h3.7v4.0h-3.7ZM233.2 266.2h4.9v6.4h-4.9ZM322.8 272.6h5.4v5.3h-5.4ZM342.0 272.6h4.3v6.2h-4.3ZM239.6 279.0h6.0v6.4h-6.0ZM310.0 279.0h5.6v4.0h-5.6ZM322.8 279.0h3.6v4.0h-3.6ZM169.2 323.8h3.5v4.1h-3.5ZM175.6 323.8h6.3v3.5h-6.3ZM182.0 323.8h5.0v5.8h-5.0ZM303.6 323.8h5.8v5.6h-5.8ZM162.8 330.2h4.7v5.8h-4.7Z" fill="#f3701b"/><path d="M124.4 183.0h5.6v4.2h-5.6ZM162.8 195.8h5.6v5.3h-5.6ZM118.0 202.2h4.0v3.5h-4.0Z" fill="#c54102"/><use href="#ln"/></g><rect x="21" y="54" width="467" height="386.5" fill="none" stroke="#000" stroke-width="1.9"/><text transform="translate(15.8,90.4) rotate(-90)" text-anchor="middle" class="tk">33.5°S</text><text transform="translate(15.8,305) rotate(-90)" text-anchor="middle" class="tk">34°S</text><text x="40.6" y="456.4" text-anchor="middle" class="tk">150.5°E</text><text x="255.3" y="456.4" text-anchor="middle" class="tk">151°E</text><text x="439" y="456.4" class="tk">151.5°</text></g><g transform="translate(1506.6,0)"><rect x="21" y="54" width="467" height="386.5" fill="#fff5eb"/><g clip-path="url(#pc)"><path d="M105.7 211.8 L126.4 207.7 L147.1 209.8 L167.8 213.9 L174 222.2 L174 240.8 L163.6 249 L147.1 247 L126.4 244.9 L111.9 244.9 L107.8 236.6 L109.9 224.2Z" fill="#fdd9b4" fill-opacity="0.6"/><path d="M126.4 176.7 L140.9 178.7 L142.9 187 L130.5 187Z" fill="#fdd9b4" fill-opacity="0.6"/><path d="M311.5 197.4 L324 197.4 L324 205.6 L311.5 205.6Z" fill="#fdd9b4" fill-opacity="0.6"/><path d="M116.1 255 L178.1 255 L178.1 263.3 L147.1 265.3 L120.2 267.4Z" fill="#fdd9b4" fill-opacity="0.6"/><path d="M184.3 255 L255.4 255 L255.4 283.9 L240.1 286 L227.7 283.9 L211.2 281.9 L198.8 286 L190.5 281.9 L186.4 271.5 L184.3 263.3Z" fill="#c54102"/><path d="M245.4 255 L377.7 255 L373.6 263.3 L369.4 275.7 L365.3 286 L361.2 296.3 L357 302.5 L352.9 296.3 L348.8 290.1 L340.5 286 L332.2 283.9 L326 286 L321.9 290.1 L317.8 298.4 L315.7 304.6 L311.5 306.7 L307.4 312.9 L313.6 317 L317.8 323.2 L315.7 329.4 L307.4 329.4 L301.2 323.2 L295 319.1 L286.7 317 L280.5 317 L278.5 310.8 L276.4 302.5 L272.3 296.3 L266.1 288.1 L257.8 286 L249.5 286 L245.4 283.9Z" fill="#c54102"/><path d="M332.2 304.6 L348.8 306.7 L346.7 312.9 L336.4 312.9Z" fill="#c54102"/><path d="M365.3 189.1 L375.6 187 L377.7 197.4 L375.6 211.8 L369.4 216 L365.3 207.7 L363.2 195.3Z" fill="#c54102"/><path d="M373.6 160.1 L381.8 160.1 L383.9 172.5 L377.7 174.6 L371.5 172.5Z" fill="#c54102"/><path d="M332.2 203.6 L342.6 203.6 L346.7 213.9 L340.5 220.1 L332.2 218Z" fill="#c54102"/><path d="M171.9 288.1 L182.2 290.1 L192.6 292.2 L200.8 290.1 L202.9 296.3 L198.8 306.7 L190.5 308.7 L186.4 312.9 L188.4 321.1 L184.3 329.4 L178.1 335.6 L171.9 337.7 L165.7 335.6 L161.5 331.5 L163.6 323.2 L169.8 314.9 L171.9 306.7 L174 296.3Z" fill="#c54102"/><path d="M130.5 310.8 L136.7 310.8 L140.9 317 L149.1 321.1 L153.3 325.3 L147.1 327.4 L136.7 323.2 L132.6 317Z" fill="#c54102"/><path d="M101.6 187 L107.8 178.7 L116.1 176.7 L120.2 172.5 L126.4 172.5 L130.5 178.7 L136.7 184.9 L145 187 L153.3 184.9 L161.5 182.9 L169.8 184.9 L178.1 184.9 L186.4 180.8 L192.6 178.7 L198.8 176.7 L207 178.7 L215.3 176.7 L221.5 172.5 L227.7 172.5 L231.8 176.7 L236 187 L240.1 195.3 L238 203.6 L240.1 207.7 L255.4 211.8 L255.4 255 L219.4 255 L207 249 L194.6 249 L186.4 244.9 L184.3 232.5 L192.6 228.4 L202.9 228.4 L211.2 224.2 L219.4 222.2 L223.6 216 L215.3 213.9 L207 216 L198.8 216 L190.5 218 L182.2 213.9 L178.1 207.7 L174 211.8 L165.7 211.8 L157.4 209.8 L149.1 207.7 L145 203.6 L140.9 199.4 L132.6 203.6 L124.3 205.6 L116.1 207.7 L107.8 209.8 L103.7 203.6 L101.6 195.3Z" fill="#7f2704"/><path d="M178.1 207.7 L190.5 218 L207 216 L223.6 216 L219.4 222.2 L202.9 228.4 L184.3 232.5 L178.1 222.2Z" fill="#7f2704"/><path d="M221.5 166.3 L231.8 164.3 L240.1 162.2 L255.4 162.2 L255.4 178.7 L240.1 178.7 L229.8 174.6Z" fill="#7f2704"/><path d="M245.4 162.2 L255.7 160.1 L268.1 160.1 L268.1 172.5 L266.1 180.8 L257.8 182.9 L245.4 181.8Z" fill="#7f2704"/><path d="M228 172 L256 176 L256 212 L240 208 L236 190Z" fill="#7f2704"/><path d="M258 186 L262 186 L262 189 L258 189Z" fill="#7f2704"/><path d="M268 190 L273 190 L273 193 L268 193Z" fill="#7f2704"/><path d="M262 194 L265 194 L265 197 L262 197Z" fill="#7f2704"/><path d="M290.9 166.3 L301.2 168.4 L299.1 174.6 L292.9 176.7Z" fill="#7f2704"/><path d="M245.4 203.6 L257.8 201.5 L270.2 199.4 L282.6 201.5 L295 203.6 L307.4 205.6 L313.6 211.8 L309.5 222.2 L313.6 232.5 L319.8 236.6 L328.1 240.8 L334.3 236.6 L344.6 240.8 L352.9 244.9 L361.2 249 L369.4 247 L373.6 255 L245.4 255Z" fill="#7f2704"/><path d="M136.7 125 L145 125 L145 131.2 L136.7 131.2Z" fill="#7f2704"/><path d="M167.8 129.1 L176 129.1 L176 135.3 L167.8 135.3Z" fill="#7f2704"/><path d="M178.1 125 L184.3 125 L184.3 128.1 L178.1 128.1Z" fill="#7f2704"/><path d="M148.1 167.4 L155.3 167.4 L155.3 170.5 L148.1 170.5Z" fill="#7f2704"/><path d="M186.4 163.2 L190.5 163.2 L190.5 166.3 L186.4 166.3Z" fill="#7f2704"/><path d="M330.2 161.8 L336.4 161.8 L336.4 164.3 L330.2 164.3Z" fill="#c54102"/><path d="M344.6 163.9 L347.7 163.9 L347.7 166.3 L344.6 166.3Z" fill="#c54102"/><path d="M340.5 186.6 L346.7 186.6 L346.7 189.1 L340.5 189.1Z" fill="#c54102"/><path d="M352.9 192.8 L361.2 192.8 L361.2 195.7 L352.9 195.7Z" fill="#c54102"/><path d="M116.1 321.1 L122.3 321.1 L122.3 328.4 L116.1 328.4Z" fill="#c54102"/><path d="M126.4 304.2 L129.5 304.2 L129.5 306.7 L126.4 306.7Z" fill="#c54102"/><path d="M147.1 301.1 L150.2 301.1 L150.2 303.6 L147.1 303.6Z" fill="#c54102"/><path d="M157.4 338.7 L163.6 338.7 L163.6 341.8 L157.4 341.8Z" fill="#c54102"/><path d="M186.4 329.4 L192.6 329.4 L192.6 332.5 L186.4 332.5Z" fill="#c54102"/><path d="M248.4 314.5 L252.5 314.5 L252.5 317 L248.4 317Z" fill="#c54102"/><path d="M147.1 334.2 L155.3 334.2 L155.3 336.7 L147.1 336.7Z" fill="#c54102"/><path d="M209.1 261.2 L240.1 261.2 L240.1 281.9 L209.1 281.9Z" fill="#7f2704"/><path d="M165.7 323.2 L182.2 323.2 L182.2 333.6 L165.7 333.6Z" fill="#7f2704"/><path d="M174 308.7 L186.4 308.7 L186.4 317 L174 317Z" fill="#7f2704"/><path d="M133.6 313.9 L138.8 314.9 L145 321.1 L138.8 322.2Z" fill="#7f2704"/><path d="M245.4 255 L270.2 255 L270.2 281.9 L245.4 281.9Z" fill="#7f2704"/><path d="M292.9 279.8 L313.6 275.7 L317.8 286 L311.5 296.3 L303.3 300.5 L295 296.3Z" fill="#7f2704"/><path d="M324 271.5 L348.8 269.5 L357 275.7 L355 286 L344.6 283.9 L332.2 281.9 L326 277.7Z" fill="#7f2704"/><path d="M348.8 259.1 L361.2 259.1 L363.2 271.5 L357 273.6Z" fill="#7f2704"/><path d="M245.4 314.9 L253.7 314.9 L253.7 317 L245.4 317Z" fill="#7f2704"/><path d="M366.3 191.1 L374.6 190.1 L375.6 203.6 L369.4 207.7 L366.3 199.4Z" fill="#7f2704"/><path d="M189 250 L241 248 L250 262 L232 269 L200 268 L189 262Z" fill="#7f2704"/><path d="M171.9 199.4 L177.1 199.4 L177.1 204.6 L171.9 204.6Z" fill="#fff5eb"/><path d="M184.3 197.4 L192.6 197.4 L192.6 205.6 L184.3 205.6Z" fill="#fff5eb"/><path d="M116.1 187 L121.2 187 L121.2 191.1 L116.1 191.1Z" fill="#fff5eb"/><path d="M207 187 L213.2 187 L213.2 192.2 L207 192.2Z" fill="#fff5eb"/><path d="M270.2 211.8 L276.4 211.8 L276.4 217 L270.2 217Z" fill="#fff5eb"/><path d="M266.1 240.8 L272.3 240.8 L272.3 247 L266.1 247Z" fill="#fff5eb"/><path d="M315.7 273.6 L321.9 273.6 L321.9 277.7 L315.7 277.7Z" fill="#fff5eb"/><path d="M198.8 234.6 L205 234.6 L205 239.7 L198.8 239.7Z" fill="#fff5eb"/><path d="M307.4 255 L332.2 255 L332.2 267.4 L307.4 267.4Z" fill="#f3701b"/><path d="M286.7 279.8 L295 279.8 L295 296.3 L286.7 296.3Z" fill="#f3701b"/><path d="M169.8 312.9 L178.1 312.9 L178.1 319.1 L169.8 319.1Z" fill="#f3701b"/><path d="M408 56.5 L428 56.5 L428 60.5 L408 60.5Z" fill="#c54102"/><path d="M437 61 L441 61 L441 64 L437 64Z" fill="#c54102"/><path d="M384 82 L392 82 L392 93 L384 93Z" fill="#c54102"/><path d="M211 432 L217 432 L217 439 L211 439Z" fill="#c54102"/><path d="M374.0 157.4h6.2v4.6h-6.2ZM194.8 176.6h5.6v6.2h-5.6ZM182.0 189.4h6.3v3.8h-6.3ZM214.0 202.2h4.4v6.0h-4.4ZM175.6 208.6h5.2v6.4h-5.2ZM226.8 227.8h4.7v4.9h-4.7ZM214.0 240.6h4.4v4.5h-4.4ZM239.6 240.6h5.5v6.2h-5.5ZM297.2 247.0h3.8v5.0h-3.8ZM342.0 247.0h6.3v3.6h-6.3ZM188.4 253.4h6.3v3.6h-6.3ZM342.0 253.4h5.2v5.7h-5.2ZM239.6 259.8h6.3v5.9h-6.3ZM258.8 259.8h4.7v4.5h-4.7ZM284.4 266.2h4.8v4.2h-4.8ZM316.4 266.2h6.1v4.0h-6.1ZM342.0 266.2h3.9v4.2h-3.9ZM201.2 279.0h5.5v5.8h-5.5ZM175.6 298.2h6.4v4.6h-6.4ZM303.6 311.0h3.9v5.8h-3.9Z" fill="#fff5eb"/><path d="M386.8 80.6h4.3v3.7h-4.3ZM361.2 195.8h3.8v5.1h-3.8ZM354.8 253.4h5.8v3.5h-5.8ZM342.0 259.8h4.5v3.5h-4.5ZM271.6 266.2h4.5v5.5h-4.5ZM194.8 272.6h4.9v5.8h-4.9ZM239.6 272.6h4.5v4.2h-4.5ZM290.8 272.6h6.0v4.0h-6.0ZM297.2 272.6h4.2v4.4h-4.2ZM361.2 272.6h4.5v5.6h-4.5ZM265.2 279.0h5.1v3.7h-5.1ZM310.0 298.2h4.5v6.1h-4.5ZM284.4 304.6h6.4v4.6h-6.4Z" fill="#f3701b"/><path d="M233.2 170.2h5.8v4.2h-5.8ZM111.6 176.6h4.8v4.6h-4.8ZM258.8 176.6h5.0v5.1h-5.0ZM111.6 189.4h4.5v4.2h-4.5ZM105.2 195.8h6.2v5.4h-6.2ZM175.6 195.8h3.7v6.1h-3.7ZM207.6 202.2h3.8v6.4h-3.8ZM239.6 202.2h3.7v5.4h-3.7ZM278.0 202.2h3.7v3.6h-3.7ZM226.8 208.6h5.5v6.0h-5.5ZM246.0 208.6h5.8v5.0h-5.8ZM252.4 208.6h3.7v5.0h-3.7ZM303.6 215.0h4.0v5.0h-4.0ZM290.8 221.4h4.5v4.9h-4.5ZM303.6 221.4h4.1v5.5h-4.1ZM207.6 234.2h3.7v4.9h-3.7ZM278.0 234.2h5.1v6.3h-5.1ZM201.2 240.6h5.1v3.9h-5.1ZM271.6 240.6h6.3v6.3h-6.3ZM297.2 240.6h6.2v6.0h-6.2ZM310.0 240.6h6.2v3.6h-6.2ZM316.4 240.6h4.9v5.2h-4.9ZM194.8 247.0h5.5v5.3h-5.5ZM233.2 247.0h5.3v6.2h-5.3ZM348.4 247.0h3.8v6.0h-3.8ZM201.2 253.4h3.6v5.9h-3.6ZM214.0 253.4h5.5v5.0h-5.5ZM194.8 259.8h3.7v5.8h-3.7ZM348.4 259.8h5.7v4.3h-5.7ZM220.4 266.2h5.2v5.0h-5.2ZM258.8 272.6h5.4v4.3h-5.4ZM265.2 272.6h5.0v4.2h-5.0ZM310.0 285.4h5.7v4.2h-5.7ZM303.6 291.8h4.1v4.7h-4.1Z" fill="#c54102"/><use href="#ln"/></g><rect x="21" y="54" width="467" height="386.5" fill="none" stroke="#000" stroke-width="1.9"/><text transform="translate(15.8,90.4) rotate(-90)" text-anchor="middle" class="tk">33.5°S</text><text transform="translate(15.8,305) rotate(-90)" text-anchor="middle" class="tk">34°S</text><text x="40.6" y="456.4" text-anchor="middle" class="tk">150.5°E</text><text x="255.3" y="456.4" text-anchor="middle" class="tk">151°E</text><text x="439" y="456.4" class="tk">151.5°E</text></g><text transform="translate(21.5,36) scale(0.91,1)" class="lt">a</text><text x="520.7" y="36" class="lt">b</text><text x="1022.8" y="36" class="lt">c</text><text x="1523.5" y="36" class="lt">d</text><polygon points="697.2,502.3 726.5,487.2 726.5,517.3" fill="#fff5eb"/><rect x="725.5" y="487.2" width="92.8" height="30.1" fill="#fff5eb"/><rect x="818" y="487.2" width="93.1" height="30.1" fill="#fdd9b4"/><rect x="910.8" y="487.2" width="93.1" height="30.1" fill="#fda762"/><rect x="1003.6" y="487.2" width="93.0" height="30.1" fill="#f3701b"/><rect x="1096.3" y="487.2" width="93.0" height="30.1" fill="#c54102"/><rect x="1189" y="487.2" width="93.8" height="30.1" fill="#7f2704"/><polygon points="1281.5,487.2 1311,502.3 1281.5,517.3" fill="#7f2704"/><polygon points="725.5,487.2 1282.5,487.2 1311,502.3 1282.5,517.3 725.5,517.3 697.2,502.3" fill="none" stroke="#000" stroke-width="1.9" stroke-linejoin="miter"/><line x1="725.5" y1="517.3" x2="725.5" y2="527" stroke="#000" stroke-width="1.6"/><text x="725.5" y="562.5" text-anchor="middle" class="cbt">0</text><line x1="818" y1="517.3" x2="818" y2="527" stroke="#000" stroke-width="1.6"/><text x="818" y="562.5" text-anchor="middle" class="cbt">25</text><line x1="910.8" y1="517.3" x2="910.8" y2="527" stroke="#000" stroke-width="1.6"/><text x="910.8" y="562.5" text-anchor="middle" class="cbt">50</text><line x1="1003.6" y1="517.3" x2="1003.6" y2="527" stroke="#000" stroke-width="1.6"/><text x="1003.6" y="562.5" text-anchor="middle" class="cbt">100</text><line x1="1096.3" y1="517.3" x2="1096.3" y2="527" stroke="#000" stroke-width="1.6"/><text x="1096.3" y="562.5" text-anchor="middle" class="cbt">150</text><line x1="1189" y1="517.3" x2="1189" y2="527" stroke="#000" stroke-width="1.6"/><text x="1189" y="562.5" text-anchor="middle" class="cbt">200</text><line x1="1282.5" y1="517.3" x2="1282.5" y2="527" stroke="#000" stroke-width="1.6"/><text x="1282.5" y="562.5" text-anchor="middle" class="cbt">250</text><text y="618.6" class="cbl"><tspan x="719" class="dj">Δ</tspan><tspan x="749.4" class="dji">Q</tspan><tspan x="781.5" y="625.4" class="dji sub">sensible</tspan><tspan x="915" y="618.6">from CTRL (</tspan><tspan x="1146" class="dji">W</tspan><tspan x="1187" class="dji">m</tspan><tspan x="1230.5" y="602.4" class="dj sub">−2</tspan><tspan x="1275.5" y="618.6">)</tspan></text></svg></body></html>
